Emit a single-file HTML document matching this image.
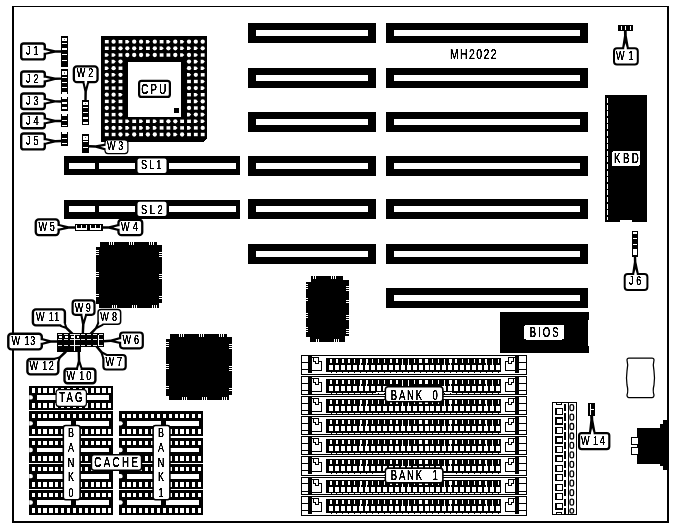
<!DOCTYPE html>
<html><head><meta charset="utf-8"><title>MH2022</title>
<style>
html,body{margin:0;padding:0;background:#fff;}
body{width:674px;height:527px;overflow:hidden;}
svg{display:block;}
text{font-family:"Liberation Sans",sans-serif;fill:#000;stroke:#000;stroke-width:0.15px;vector-effect:non-scaling-stroke;}
</style></head><body>
<svg width="674" height="527" viewBox="0 0 674 527" shape-rendering="crispEdges">
<rect x="0" y="0" width="674" height="527" fill="#fff"/>
<defs><filter id="bw" x="0" y="0" width="100%" height="100%" filterUnits="userSpaceOnUse" color-interpolation-filters="sRGB">
<feComponentTransfer><feFuncA type="linear" slope="3" intercept="-0.6"/></feComponentTransfer></filter></defs>
<rect x="12" y="6" width="2" height="517" fill="#000" />
<rect x="12" y="6" width="657" height="1" fill="#000" />
<rect x="667" y="6" width="2" height="517" fill="#000" />
<rect x="12" y="521" width="657" height="2" fill="#000" />
<rect x="248" y="23" width="128" height="20" fill="#000" />
<rect x="256" y="30" width="112" height="6" fill="#fff" />
<rect x="248" y="68" width="128" height="20" fill="#000" />
<rect x="256" y="75" width="112" height="6" fill="#fff" />
<rect x="248" y="112" width="128" height="20" fill="#000" />
<rect x="256" y="119" width="112" height="6" fill="#fff" />
<rect x="248" y="156" width="128" height="20" fill="#000" />
<rect x="256" y="163" width="112" height="6" fill="#fff" />
<rect x="248" y="199" width="128" height="20" fill="#000" />
<rect x="256" y="206" width="112" height="6" fill="#fff" />
<rect x="248" y="244" width="128" height="20" fill="#000" />
<rect x="256" y="251" width="112" height="6" fill="#fff" />
<rect x="386" y="23" width="202" height="20" fill="#000" />
<rect x="394" y="30" width="186" height="6" fill="#fff" />
<rect x="386" y="68" width="202" height="20" fill="#000" />
<rect x="394" y="75" width="186" height="6" fill="#fff" />
<rect x="386" y="112" width="202" height="20" fill="#000" />
<rect x="394" y="119" width="186" height="6" fill="#fff" />
<rect x="386" y="156" width="202" height="20" fill="#000" />
<rect x="394" y="163" width="186" height="6" fill="#fff" />
<rect x="386" y="199" width="202" height="20" fill="#000" />
<rect x="394" y="206" width="186" height="6" fill="#fff" />
<rect x="386" y="244" width="202" height="20" fill="#000" />
<rect x="394" y="251" width="186" height="6" fill="#fff" />
<rect x="386" y="288" width="202" height="20" fill="#000" />
<rect x="394" y="295" width="186" height="6" fill="#fff" />
<rect x="64" y="156" width="176" height="19" fill="#000" />
<rect x="69" y="163" width="25.5" height="6" fill="#fff" />
<rect x="99" y="163" width="137.3" height="6" fill="#fff" />
<rect x="134.6" y="156" width="34.8" height="19" fill="#000" />
<rect x="137.5" y="158.6" width="29" height="14.3" rx="2" fill="#fff" shape-rendering="auto"/>
<rect x="64" y="200" width="176" height="19" fill="#000" />
<rect x="69" y="206" width="25.5" height="6" fill="#fff" />
<rect x="99" y="206" width="137.3" height="6" fill="#fff" />
<rect x="134.6" y="200" width="34.8" height="19" fill="#000" />
<rect x="137.5" y="201.7" width="29" height="14.3" rx="2" fill="#fff" shape-rendering="auto"/>
<polygon points="101,36 207,36 207,138.5 203.5,142 101,142" fill="#000"/>
<rect x="128" y="62" width="53" height="54.5" fill="#fff" />
<rect x="104.9" y="40.0" width="3.8" height="3.4" fill="#fff" shape-rendering="auto"/>
<circle cx="113.6" cy="41.7" r="2.15" fill="#fff" shape-rendering="auto"/>
<rect x="118.6" y="40.0" width="3.8" height="3.4" fill="#fff" shape-rendering="auto"/>
<polygon points="125.3,39.9 127.8,39.9 129.5,41.7 127.8,43.5 125.3,43.5" fill="#fff" shape-rendering="auto"/>
<circle cx="134.2" cy="41.7" r="2.15" fill="#fff" shape-rendering="auto"/>
<circle cx="141.1" cy="41.7" r="2.15" fill="#fff" shape-rendering="auto"/>
<polygon points="145.9,39.9 148.3,39.9 150.1,41.7 148.3,43.5 145.9,43.5" fill="#fff" shape-rendering="auto"/>
<circle cx="154.8" cy="41.7" r="2.15" fill="#fff" shape-rendering="auto"/>
<rect x="159.7" y="40.0" width="3.8" height="3.4" fill="#fff" shape-rendering="auto"/>
<polygon points="166.4,39.9 168.8,39.9 170.6,41.7 168.8,43.5 166.4,43.5" fill="#fff" shape-rendering="auto"/>
<circle cx="175.3" cy="41.7" r="2.15" fill="#fff" shape-rendering="auto"/>
<polygon points="180.1,39.9 182.5,39.9 184.3,41.7 182.5,43.5 180.1,43.5" fill="#fff" shape-rendering="auto"/>
<circle cx="189.0" cy="41.7" r="2.15" fill="#fff" shape-rendering="auto"/>
<circle cx="195.8" cy="41.7" r="2.15" fill="#fff" shape-rendering="auto"/>
<circle cx="202.7" cy="41.7" r="2.15" fill="#fff" shape-rendering="auto"/>
<rect x="104.9" y="46.6" width="3.8" height="3.4" fill="#fff" shape-rendering="auto"/>
<rect x="111.7" y="46.6" width="3.8" height="3.4" fill="#fff" shape-rendering="auto"/>
<circle cx="120.5" cy="48.3" r="2.15" fill="#fff" shape-rendering="auto"/>
<circle cx="127.3" cy="48.3" r="2.15" fill="#fff" shape-rendering="auto"/>
<circle cx="134.2" cy="48.3" r="2.15" fill="#fff" shape-rendering="auto"/>
<polygon points="139.1,46.5 141.5,46.5 143.2,48.3 141.5,50.1 139.1,50.1" fill="#fff" shape-rendering="auto"/>
<rect x="146.0" y="46.6" width="3.8" height="3.4" fill="#fff" shape-rendering="auto"/>
<circle cx="154.8" cy="48.3" r="2.15" fill="#fff" shape-rendering="auto"/>
<polygon points="159.6,46.5 162.0,46.5 163.8,48.3 162.0,50.1 159.6,50.1" fill="#fff" shape-rendering="auto"/>
<circle cx="168.4" cy="48.3" r="2.15" fill="#fff" shape-rendering="auto"/>
<circle cx="175.3" cy="48.3" r="2.15" fill="#fff" shape-rendering="auto"/>
<polygon points="180.1,46.5 182.5,46.5 184.3,48.3 182.5,50.1 180.1,50.1" fill="#fff" shape-rendering="auto"/>
<polygon points="187.0,46.5 189.4,46.5 191.2,48.3 189.4,50.1 187.0,50.1" fill="#fff" shape-rendering="auto"/>
<polygon points="193.8,46.5 196.2,46.5 198.0,48.3 196.2,50.1 193.8,50.1" fill="#fff" shape-rendering="auto"/>
<circle cx="202.7" cy="48.3" r="2.15" fill="#fff" shape-rendering="auto"/>
<polygon points="104.8,53.2 107.2,53.2 109.0,55.0 107.2,56.8 104.8,56.8" fill="#fff" shape-rendering="auto"/>
<polygon points="111.6,53.2 114.0,53.2 115.8,55.0 114.0,56.8 111.6,56.8" fill="#fff" shape-rendering="auto"/>
<rect x="118.6" y="53.3" width="3.8" height="3.4" fill="#fff" shape-rendering="auto"/>
<circle cx="127.3" cy="55.0" r="2.15" fill="#fff" shape-rendering="auto"/>
<circle cx="134.2" cy="55.0" r="2.15" fill="#fff" shape-rendering="auto"/>
<circle cx="141.1" cy="55.0" r="2.15" fill="#fff" shape-rendering="auto"/>
<polygon points="145.9,53.2 148.3,53.2 150.1,55.0 148.3,56.8 145.9,56.8" fill="#fff" shape-rendering="auto"/>
<circle cx="154.8" cy="55.0" r="2.15" fill="#fff" shape-rendering="auto"/>
<rect x="159.7" y="53.3" width="3.8" height="3.4" fill="#fff" shape-rendering="auto"/>
<rect x="166.5" y="53.3" width="3.8" height="3.4" fill="#fff" shape-rendering="auto"/>
<circle cx="175.3" cy="55.0" r="2.15" fill="#fff" shape-rendering="auto"/>
<polygon points="180.1,53.2 182.5,53.2 184.3,55.0 182.5,56.8 180.1,56.8" fill="#fff" shape-rendering="auto"/>
<circle cx="189.0" cy="55.0" r="2.15" fill="#fff" shape-rendering="auto"/>
<polygon points="193.8,53.2 196.2,53.2 198.0,55.0 196.2,56.8 193.8,56.8" fill="#fff" shape-rendering="auto"/>
<rect x="200.8" y="53.3" width="3.8" height="3.4" fill="#fff" shape-rendering="auto"/>
<polygon points="104.8,59.8 107.2,59.8 109.0,61.6 107.2,63.4 104.8,63.4" fill="#fff" shape-rendering="auto"/>
<polygon points="111.6,59.8 114.0,59.8 115.8,61.6 114.0,63.4 111.6,63.4" fill="#fff" shape-rendering="auto"/>
<circle cx="120.5" cy="61.6" r="2.15" fill="#fff" shape-rendering="auto"/>
<circle cx="189.0" cy="61.6" r="2.15" fill="#fff" shape-rendering="auto"/>
<polygon points="193.8,59.8 196.2,59.8 198.0,61.6 196.2,63.4 193.8,63.4" fill="#fff" shape-rendering="auto"/>
<polygon points="200.7,59.8 203.1,59.8 204.9,61.6 203.1,63.4 200.7,63.4" fill="#fff" shape-rendering="auto"/>
<polygon points="104.8,66.4 107.2,66.4 109.0,68.2 107.2,70.0 104.8,70.0" fill="#fff" shape-rendering="auto"/>
<circle cx="113.6" cy="68.2" r="2.15" fill="#fff" shape-rendering="auto"/>
<rect x="118.6" y="66.5" width="3.8" height="3.4" fill="#fff" shape-rendering="auto"/>
<circle cx="189.0" cy="68.2" r="2.15" fill="#fff" shape-rendering="auto"/>
<polygon points="193.8,66.4 196.2,66.4 198.0,68.2 196.2,70.0 193.8,70.0" fill="#fff" shape-rendering="auto"/>
<polygon points="200.7,66.4 203.1,66.4 204.9,68.2 203.1,70.0 200.7,70.0" fill="#fff" shape-rendering="auto"/>
<circle cx="106.8" cy="74.8" r="2.15" fill="#fff" shape-rendering="auto"/>
<polygon points="111.6,73.0 114.0,73.0 115.8,74.8 114.0,76.6 111.6,76.6" fill="#fff" shape-rendering="auto"/>
<circle cx="120.5" cy="74.8" r="2.15" fill="#fff" shape-rendering="auto"/>
<polygon points="187.0,73.0 189.4,73.0 191.2,74.8 189.4,76.6 187.0,76.6" fill="#fff" shape-rendering="auto"/>
<circle cx="195.8" cy="74.8" r="2.15" fill="#fff" shape-rendering="auto"/>
<rect x="200.8" y="73.1" width="3.8" height="3.4" fill="#fff" shape-rendering="auto"/>
<polygon points="104.8,79.7 107.2,79.7 109.0,81.5 107.2,83.3 104.8,83.3" fill="#fff" shape-rendering="auto"/>
<polygon points="111.6,79.7 114.0,79.7 115.8,81.5 114.0,83.3 111.6,83.3" fill="#fff" shape-rendering="auto"/>
<rect x="118.6" y="79.8" width="3.8" height="3.4" fill="#fff" shape-rendering="auto"/>
<rect x="187.1" y="79.8" width="3.8" height="3.4" fill="#fff" shape-rendering="auto"/>
<rect x="193.9" y="79.8" width="3.8" height="3.4" fill="#fff" shape-rendering="auto"/>
<polygon points="200.7,79.7 203.1,79.7 204.9,81.5 203.1,83.3 200.7,83.3" fill="#fff" shape-rendering="auto"/>
<rect x="104.9" y="86.4" width="3.8" height="3.4" fill="#fff" shape-rendering="auto"/>
<rect x="111.7" y="86.4" width="3.8" height="3.4" fill="#fff" shape-rendering="auto"/>
<rect x="118.6" y="86.4" width="3.8" height="3.4" fill="#fff" shape-rendering="auto"/>
<circle cx="189.0" cy="88.1" r="2.15" fill="#fff" shape-rendering="auto"/>
<circle cx="195.8" cy="88.1" r="2.15" fill="#fff" shape-rendering="auto"/>
<polygon points="200.7,86.3 203.1,86.3 204.9,88.1 203.1,89.9 200.7,89.9" fill="#fff" shape-rendering="auto"/>
<circle cx="106.8" cy="94.7" r="2.15" fill="#fff" shape-rendering="auto"/>
<circle cx="113.6" cy="94.7" r="2.15" fill="#fff" shape-rendering="auto"/>
<polygon points="118.5,92.9 120.9,92.9 122.7,94.7 120.9,96.5 118.5,96.5" fill="#fff" shape-rendering="auto"/>
<rect x="187.1" y="93.0" width="3.8" height="3.4" fill="#fff" shape-rendering="auto"/>
<polygon points="193.8,92.9 196.2,92.9 198.0,94.7 196.2,96.5 193.8,96.5" fill="#fff" shape-rendering="auto"/>
<rect x="200.8" y="93.0" width="3.8" height="3.4" fill="#fff" shape-rendering="auto"/>
<rect x="104.9" y="99.7" width="3.8" height="3.4" fill="#fff" shape-rendering="auto"/>
<polygon points="111.6,99.6 114.0,99.6 115.8,101.4 114.0,103.2 111.6,103.2" fill="#fff" shape-rendering="auto"/>
<rect x="118.6" y="99.7" width="3.8" height="3.4" fill="#fff" shape-rendering="auto"/>
<rect x="187.1" y="99.7" width="3.8" height="3.4" fill="#fff" shape-rendering="auto"/>
<polygon points="193.8,99.6 196.2,99.6 198.0,101.4 196.2,103.2 193.8,103.2" fill="#fff" shape-rendering="auto"/>
<circle cx="202.7" cy="101.4" r="2.15" fill="#fff" shape-rendering="auto"/>
<circle cx="106.8" cy="108.0" r="2.15" fill="#fff" shape-rendering="auto"/>
<polygon points="111.6,106.2 114.0,106.2 115.8,108.0 114.0,109.8 111.6,109.8" fill="#fff" shape-rendering="auto"/>
<rect x="118.6" y="106.3" width="3.8" height="3.4" fill="#fff" shape-rendering="auto"/>
<circle cx="189.0" cy="108.0" r="2.15" fill="#fff" shape-rendering="auto"/>
<rect x="193.9" y="106.3" width="3.8" height="3.4" fill="#fff" shape-rendering="auto"/>
<circle cx="202.7" cy="108.0" r="2.15" fill="#fff" shape-rendering="auto"/>
<rect x="104.9" y="112.9" width="3.8" height="3.4" fill="#fff" shape-rendering="auto"/>
<rect x="111.7" y="112.9" width="3.8" height="3.4" fill="#fff" shape-rendering="auto"/>
<circle cx="120.5" cy="114.6" r="2.15" fill="#fff" shape-rendering="auto"/>
<polygon points="187.0,112.8 189.4,112.8 191.2,114.6 189.4,116.4 187.0,116.4" fill="#fff" shape-rendering="auto"/>
<circle cx="195.8" cy="114.6" r="2.15" fill="#fff" shape-rendering="auto"/>
<polygon points="200.7,112.8 203.1,112.8 204.9,114.6 203.1,116.4 200.7,116.4" fill="#fff" shape-rendering="auto"/>
<polygon points="104.8,119.5 107.2,119.5 109.0,121.3 107.2,123.1 104.8,123.1" fill="#fff" shape-rendering="auto"/>
<rect x="111.7" y="119.6" width="3.8" height="3.4" fill="#fff" shape-rendering="auto"/>
<rect x="118.6" y="119.6" width="3.8" height="3.4" fill="#fff" shape-rendering="auto"/>
<polygon points="125.3,119.5 127.8,119.5 129.5,121.3 127.8,123.1 125.3,123.1" fill="#fff" shape-rendering="auto"/>
<rect x="132.3" y="119.6" width="3.8" height="3.4" fill="#fff" shape-rendering="auto"/>
<polygon points="139.1,119.5 141.5,119.5 143.2,121.3 141.5,123.1 139.1,123.1" fill="#fff" shape-rendering="auto"/>
<rect x="146.0" y="119.6" width="3.8" height="3.4" fill="#fff" shape-rendering="auto"/>
<polygon points="152.8,119.5 155.2,119.5 156.9,121.3 155.2,123.1 152.8,123.1" fill="#fff" shape-rendering="auto"/>
<rect x="159.7" y="119.6" width="3.8" height="3.4" fill="#fff" shape-rendering="auto"/>
<circle cx="168.4" cy="121.3" r="2.15" fill="#fff" shape-rendering="auto"/>
<circle cx="175.3" cy="121.3" r="2.15" fill="#fff" shape-rendering="auto"/>
<rect x="180.2" y="119.6" width="3.8" height="3.4" fill="#fff" shape-rendering="auto"/>
<rect x="187.1" y="119.6" width="3.8" height="3.4" fill="#fff" shape-rendering="auto"/>
<polygon points="193.8,119.5 196.2,119.5 198.0,121.3 196.2,123.1 193.8,123.1" fill="#fff" shape-rendering="auto"/>
<polygon points="200.7,119.5 203.1,119.5 204.9,121.3 203.1,123.1 200.7,123.1" fill="#fff" shape-rendering="auto"/>
<circle cx="106.8" cy="127.9" r="2.15" fill="#fff" shape-rendering="auto"/>
<circle cx="113.6" cy="127.9" r="2.15" fill="#fff" shape-rendering="auto"/>
<polygon points="118.5,126.1 120.9,126.1 122.7,127.9 120.9,129.7 118.5,129.7" fill="#fff" shape-rendering="auto"/>
<polygon points="125.3,126.1 127.8,126.1 129.5,127.9 127.8,129.7 125.3,129.7" fill="#fff" shape-rendering="auto"/>
<rect x="132.3" y="126.2" width="3.8" height="3.4" fill="#fff" shape-rendering="auto"/>
<polygon points="139.1,126.1 141.5,126.1 143.2,127.9 141.5,129.7 139.1,129.7" fill="#fff" shape-rendering="auto"/>
<polygon points="145.9,126.1 148.3,126.1 150.1,127.9 148.3,129.7 145.9,129.7" fill="#fff" shape-rendering="auto"/>
<polygon points="152.8,126.1 155.2,126.1 156.9,127.9 155.2,129.7 152.8,129.7" fill="#fff" shape-rendering="auto"/>
<rect x="159.7" y="126.2" width="3.8" height="3.4" fill="#fff" shape-rendering="auto"/>
<rect x="166.5" y="126.2" width="3.8" height="3.4" fill="#fff" shape-rendering="auto"/>
<polygon points="173.3,126.1 175.7,126.1 177.5,127.9 175.7,129.7 173.3,129.7" fill="#fff" shape-rendering="auto"/>
<rect x="180.2" y="126.2" width="3.8" height="3.4" fill="#fff" shape-rendering="auto"/>
<polygon points="187.0,126.1 189.4,126.1 191.2,127.9 189.4,129.7 187.0,129.7" fill="#fff" shape-rendering="auto"/>
<rect x="193.9" y="126.2" width="3.8" height="3.4" fill="#fff" shape-rendering="auto"/>
<circle cx="202.7" cy="127.9" r="2.15" fill="#fff" shape-rendering="auto"/>
<rect x="104.9" y="132.8" width="3.8" height="3.4" fill="#fff" shape-rendering="auto"/>
<rect x="111.7" y="132.8" width="3.8" height="3.4" fill="#fff" shape-rendering="auto"/>
<circle cx="120.5" cy="134.5" r="2.15" fill="#fff" shape-rendering="auto"/>
<polygon points="125.3,132.7 127.8,132.7 129.5,134.5 127.8,136.3 125.3,136.3" fill="#fff" shape-rendering="auto"/>
<circle cx="134.2" cy="134.5" r="2.15" fill="#fff" shape-rendering="auto"/>
<rect x="139.2" y="132.8" width="3.8" height="3.4" fill="#fff" shape-rendering="auto"/>
<circle cx="147.9" cy="134.5" r="2.15" fill="#fff" shape-rendering="auto"/>
<circle cx="154.8" cy="134.5" r="2.15" fill="#fff" shape-rendering="auto"/>
<rect x="159.7" y="132.8" width="3.8" height="3.4" fill="#fff" shape-rendering="auto"/>
<circle cx="168.4" cy="134.5" r="2.15" fill="#fff" shape-rendering="auto"/>
<polygon points="173.3,132.7 175.7,132.7 177.5,134.5 175.7,136.3 173.3,136.3" fill="#fff" shape-rendering="auto"/>
<circle cx="182.1" cy="134.5" r="2.15" fill="#fff" shape-rendering="auto"/>
<rect x="187.1" y="132.8" width="3.8" height="3.4" fill="#fff" shape-rendering="auto"/>
<rect x="193.9" y="132.8" width="3.8" height="3.4" fill="#fff" shape-rendering="auto"/>
<rect x="200.8" y="132.8" width="3.8" height="3.4" fill="#fff" shape-rendering="auto"/>
<rect x="174.4" y="108.4" width="4.8" height="4.8" fill="#000" />
<rect x="139.1" y="80.8" width="30.8" height="16.1" rx="2.5" ry="2.5" fill="#fff" stroke="#000" stroke-width="2.2" shape-rendering="auto"/>
<rect x="61" y="36" width="7" height="30.6" fill="#000" />
<rect x="62.3" y="37.6" width="4.4" height="3.8" fill="#fff" />
<rect x="63.6" y="38.8" width="1.8" height="1.4" fill="#777" />
<rect x="62" y="42.85" width="5" height="1.5" fill="#fff" />
<rect x="62" y="48.35" width="5" height="1.5" fill="#fff" />
<rect x="62" y="53.75" width="5" height="1.5" fill="#fff" />
<rect x="62" y="59.85" width="5" height="1.5" fill="#fff" />
<rect x="61" y="69" width="7" height="25.2" fill="#000" />
<rect x="62.3" y="70.8" width="4.4" height="4.2" fill="#fff" />
<rect x="63.6" y="72" width="1.8" height="1.8" fill="#777" />
<rect x="62" y="76.65" width="5" height="1.5" fill="#fff" />
<rect x="62" y="81.55" width="5" height="1.5" fill="#fff" />
<rect x="62" y="86.65" width="5" height="1.5" fill="#fff" />
<rect x="62" y="92.05" width="5" height="1.5" fill="#fff" />
<rect x="61" y="97" width="7" height="13.6" fill="#000" />
<rect x="62" y="97.15" width="5" height="1.5" fill="#fff" />
<rect x="62" y="102.05" width="5" height="1.5" fill="#fff" />
<rect x="62" y="107.25" width="5" height="1.5" fill="#fff" />
<rect x="61" y="114.2" width="7" height="13.2" fill="#000" />
<rect x="62" y="114.35" width="5" height="1.5" fill="#fff" />
<rect x="62" y="119.55" width="5" height="1.5" fill="#fff" />
<rect x="62" y="124.65" width="5" height="1.5" fill="#fff" />
<rect x="61" y="132.3" width="7" height="13.2" fill="#000" />
<rect x="62" y="132.45" width="5" height="1.5" fill="#fff" />
<rect x="62" y="137.65" width="5" height="1.5" fill="#fff" />
<rect x="62" y="142.75" width="5" height="1.5" fill="#fff" />
<rect x="82" y="100" width="7" height="24.5" fill="#000" />
<rect x="83.3" y="101.5" width="4.4" height="3.9" fill="#fff" />
<rect x="84.6" y="102.7" width="1.8" height="1.5" fill="#777" />
<rect x="83" y="106.65" width="5" height="1.5" fill="#fff" />
<rect x="83" y="111.75" width="5" height="1.5" fill="#fff" />
<rect x="83" y="117.45" width="5" height="1.5" fill="#fff" />
<rect x="83" y="122.05" width="5" height="1.5" fill="#fff" />
<rect x="82" y="134" width="7" height="18.6" fill="#000" />
<rect x="83.3" y="135.6" width="4.4" height="4" fill="#fff" />
<rect x="84.6" y="136.8" width="1.8" height="1.6" fill="#777" />
<rect x="83" y="140.75" width="5" height="1.5" fill="#fff" />
<rect x="83" y="146.55" width="5" height="1.5" fill="#fff" />
<polygon points="44.0,54.8 45.5,54.8 55.1,52.7 61.5,52.7 61.5,50.3 55.1,50.2 45.5,48.1 44.0,48.0" fill="#000" shape-rendering="auto"/>
<rect x="21.2" y="43.5" width="23.6" height="15.9" rx="2.5" ry="2.5" fill="#fff" stroke="#000" stroke-width="2.4" shape-rendering="auto"/>
<polygon points="42.5,52.7 45.5,52.7 50.5,51.5 45.5,50.2 42.5,50.1" fill="#fff" shape-rendering="auto"/>
<polygon points="44.1,82.4 45.6,82.4 55.1,80.0 61.5,79.8 61.5,77.4 55.1,77.5 45.4,75.6 43.9,75.6" fill="#000" shape-rendering="auto"/>
<rect x="21.2" y="71.5" width="23.6" height="15" rx="2.5" ry="2.5" fill="#fff" stroke="#000" stroke-width="2.4" shape-rendering="auto"/>
<polygon points="42.5,80.4 45.5,80.3 50.5,78.9 45.5,77.7 42.5,77.8" fill="#fff" shape-rendering="auto"/>
<polygon points="43.9,104.6 45.4,104.6 55.1,102.6 61.5,102.7 61.5,100.3 55.1,100.2 45.6,97.9 44.1,97.8" fill="#000" shape-rendering="auto"/>
<rect x="21.2" y="93.5" width="23.6" height="15.5" rx="2.5" ry="2.5" fill="#fff" stroke="#000" stroke-width="2.4" shape-rendering="auto"/>
<polygon points="42.5,102.5 45.5,102.5 50.5,101.3 45.5,100.0 42.5,99.9" fill="#fff" shape-rendering="auto"/>
<polygon points="44.0,124.3 45.5,124.3 55.1,122.2 61.5,122.2 61.5,119.8 55.1,119.7 45.5,117.5 44.0,117.5" fill="#000" shape-rendering="auto"/>
<rect x="21.2" y="113.5" width="23.6" height="14.8" rx="2.5" ry="2.5" fill="#fff" stroke="#000" stroke-width="2.4" shape-rendering="auto"/>
<polygon points="42.5,122.2 45.5,122.2 50.5,120.9 45.5,119.6 42.5,119.6" fill="#fff" shape-rendering="auto"/>
<polygon points="44.1,144.9 45.6,144.8 55.1,142.4 61.5,142.2 61.5,139.8 55.1,139.9 45.4,138.1 43.9,138.1" fill="#000" shape-rendering="auto"/>
<rect x="21.2" y="133.5" width="23.6" height="15.9" rx="2.5" ry="2.5" fill="#fff" stroke="#000" stroke-width="2.4" shape-rendering="auto"/>
<polygon points="42.5,142.8 45.5,142.7 50.5,141.3 45.5,140.2 42.5,140.2" fill="#fff" shape-rendering="auto"/>
<polygon points="82.4,80.9 82.4,82.4 84.4,91.5 84.3,100.5 86.7,100.5 86.9,91.5 89.2,82.6 89.2,81.1" fill="#000" shape-rendering="auto"/>
<rect x="73.85" y="66.35" width="23.7" height="15.8" rx="3" ry="3" fill="#fff" stroke="#000" stroke-width="2.3" shape-rendering="auto"/>
<polygon points="84.6,79.5 84.5,82.5 85.7,87.5 87.1,82.5 87.1,79.5" fill="#fff" shape-rendering="auto"/>
<polygon points="107.1,143.7 105.6,143.6 95.7,145.3 89.1,145.1 88.9,147.5 95.5,147.8 105.4,150.4 106.9,150.5" fill="#000" shape-rendering="auto"/>
<rect x="105" y="139.9" width="22.9" height="13.7" rx="3" ry="3" fill="#fff" stroke="#000" stroke-width="1.2" shape-rendering="auto"/>
<polygon points="108.6,145.8 105.6,145.7 100.5,146.8 105.4,148.3 108.4,148.4" fill="#fff" shape-rendering="auto"/>
<rect x="618" y="25" width="14.5" height="6" fill="#000" />
<rect x="620.5" y="26.3" width="1.4" height="3.4" fill="#fff" />
<rect x="625" y="26.3" width="1.4" height="3.4" fill="#fff" />
<rect x="629.5" y="26.3" width="1.4" height="3.4" fill="#fff" />
<polygon points="628.9,49.5 628.9,48.0 626.8,35.7 626.7,31.0 623.9,31.0 624.0,35.8 622.1,48.0 622.1,49.5" fill="#000" shape-rendering="auto"/>
<rect x="614" y="48.2" width="23.8" height="16.4" rx="3" ry="3" fill="#fff" stroke="#000" stroke-width="2" shape-rendering="auto"/>
<polygon points="626.8,51.0 626.8,48.0 625.4,43.0 624.2,48.0 624.2,51.0" fill="#fff" shape-rendering="auto"/>
<polygon points="605,95 647,95 647,221.5 632,221.5 632,219.5 620,219.5 620,221.5 605,221.5" fill="#000"/>
<line x1="607" y1="98" x2="607" y2="220" stroke="#fff" stroke-width="1" stroke-dasharray="5,1.6"/>
<rect x="612" y="151" width="28" height="15" rx="2" fill="#fff"/>
<rect x="632" y="231.4" width="6" height="25.1" fill="#000" />
<rect x="633.3" y="249.2" width="3.4" height="5.6" fill="#fff" />
<rect x="634.6" y="250.4" width="0.8" height="3.2" fill="#777" />
<rect x="633" y="232.15" width="4" height="1.5" fill="#fff" />
<rect x="633" y="237.95" width="4" height="1.5" fill="#fff" />
<rect x="633" y="243.75" width="4" height="1.5" fill="#fff" />
<polygon points="638.9,275.4 638.9,273.9 636.4,262.1 636.2,257.0 633.8,257.0 633.9,262.1 632.1,274.1 632.1,275.6" fill="#000" shape-rendering="auto"/>
<rect x="624.7" y="274" width="22.7" height="16" rx="3" ry="3" fill="#fff" stroke="#000" stroke-width="2" shape-rendering="auto"/>
<polygon points="636.9,277.0 636.8,274.0 635.4,269.0 634.2,274.0 634.3,277.0" fill="#fff" shape-rendering="auto"/>
<path d="M500,312 H589 V319.5 L587.5,321.5 V344.5 L589,346.5 V352.5 H500 Z" fill="#000"/>
<rect x="524" y="325" width="40" height="14.5" rx="2" fill="#fff"/>
<polygon points="100,242 157,242 157,245 162,245 162,303 159,303 159,308 99,308 99,304 96,304 96,247 100,247" fill="#000"/>
<rect x="109.2" y="242" width="0.9" height="2.6" fill="#fff" />
<rect x="112.2" y="305.4" width="0.9" height="2.6" fill="#fff" />
<rect x="111.3" y="242" width="0.9" height="2.6" fill="#fff" />
<rect x="114.3" y="305.4" width="0.9" height="2.6" fill="#fff" />
<rect x="113.4" y="242" width="0.9" height="2.6" fill="#fff" />
<rect x="116.4" y="305.4" width="0.9" height="2.6" fill="#fff" />
<rect x="129" y="242" width="0.9" height="2.6" fill="#fff" />
<rect x="132" y="305.4" width="0.9" height="2.6" fill="#fff" />
<rect x="131.1" y="242" width="0.9" height="2.6" fill="#fff" />
<rect x="134.1" y="305.4" width="0.9" height="2.6" fill="#fff" />
<rect x="133.2" y="242" width="0.9" height="2.6" fill="#fff" />
<rect x="136.2" y="305.4" width="0.9" height="2.6" fill="#fff" />
<rect x="148.8" y="242" width="0.9" height="2.6" fill="#fff" />
<rect x="151.8" y="305.4" width="0.9" height="2.6" fill="#fff" />
<rect x="150.9" y="242" width="0.9" height="2.6" fill="#fff" />
<rect x="153.9" y="305.4" width="0.9" height="2.6" fill="#fff" />
<rect x="153" y="242" width="0.9" height="2.6" fill="#fff" />
<rect x="156" y="305.4" width="0.9" height="2.6" fill="#fff" />
<rect x="96" y="249.92" width="2.6" height="0.9" fill="#fff" />
<rect x="159.4" y="251.92" width="2.6" height="0.9" fill="#fff" />
<rect x="96" y="252.02" width="2.6" height="0.9" fill="#fff" />
<rect x="159.4" y="254.02" width="2.6" height="0.9" fill="#fff" />
<rect x="96" y="254.12" width="2.6" height="0.9" fill="#fff" />
<rect x="159.4" y="256.12" width="2.6" height="0.9" fill="#fff" />
<rect x="96" y="271.7" width="2.6" height="0.9" fill="#fff" />
<rect x="159.4" y="273.7" width="2.6" height="0.9" fill="#fff" />
<rect x="96" y="273.8" width="2.6" height="0.9" fill="#fff" />
<rect x="159.4" y="275.8" width="2.6" height="0.9" fill="#fff" />
<rect x="96" y="275.9" width="2.6" height="0.9" fill="#fff" />
<rect x="159.4" y="277.9" width="2.6" height="0.9" fill="#fff" />
<rect x="96" y="291.5" width="2.6" height="0.9" fill="#fff" />
<rect x="159.4" y="293.5" width="2.6" height="0.9" fill="#fff" />
<rect x="96" y="293.6" width="2.6" height="0.9" fill="#fff" />
<rect x="159.4" y="295.6" width="2.6" height="0.9" fill="#fff" />
<rect x="96" y="295.7" width="2.6" height="0.9" fill="#fff" />
<rect x="159.4" y="297.7" width="2.6" height="0.9" fill="#fff" />
<polygon points="170,334 227,334 227,337 232,337 232,395 229,395 229,400 169,400 169,396 166,396 166,339 170,339" fill="#000"/>
<rect x="179.2" y="334" width="0.9" height="2.6" fill="#fff" />
<rect x="182.2" y="397.4" width="0.9" height="2.6" fill="#fff" />
<rect x="181.3" y="334" width="0.9" height="2.6" fill="#fff" />
<rect x="184.3" y="397.4" width="0.9" height="2.6" fill="#fff" />
<rect x="183.4" y="334" width="0.9" height="2.6" fill="#fff" />
<rect x="186.4" y="397.4" width="0.9" height="2.6" fill="#fff" />
<rect x="199" y="334" width="0.9" height="2.6" fill="#fff" />
<rect x="202" y="397.4" width="0.9" height="2.6" fill="#fff" />
<rect x="201.1" y="334" width="0.9" height="2.6" fill="#fff" />
<rect x="204.1" y="397.4" width="0.9" height="2.6" fill="#fff" />
<rect x="203.2" y="334" width="0.9" height="2.6" fill="#fff" />
<rect x="206.2" y="397.4" width="0.9" height="2.6" fill="#fff" />
<rect x="218.8" y="334" width="0.9" height="2.6" fill="#fff" />
<rect x="221.8" y="397.4" width="0.9" height="2.6" fill="#fff" />
<rect x="220.9" y="334" width="0.9" height="2.6" fill="#fff" />
<rect x="223.9" y="397.4" width="0.9" height="2.6" fill="#fff" />
<rect x="223" y="334" width="0.9" height="2.6" fill="#fff" />
<rect x="226" y="397.4" width="0.9" height="2.6" fill="#fff" />
<rect x="166" y="341.92" width="2.6" height="0.9" fill="#fff" />
<rect x="229.4" y="343.92" width="2.6" height="0.9" fill="#fff" />
<rect x="166" y="344.02" width="2.6" height="0.9" fill="#fff" />
<rect x="229.4" y="346.02" width="2.6" height="0.9" fill="#fff" />
<rect x="166" y="346.12" width="2.6" height="0.9" fill="#fff" />
<rect x="229.4" y="348.12" width="2.6" height="0.9" fill="#fff" />
<rect x="166" y="363.7" width="2.6" height="0.9" fill="#fff" />
<rect x="229.4" y="365.7" width="2.6" height="0.9" fill="#fff" />
<rect x="166" y="365.8" width="2.6" height="0.9" fill="#fff" />
<rect x="229.4" y="367.8" width="2.6" height="0.9" fill="#fff" />
<rect x="166" y="367.9" width="2.6" height="0.9" fill="#fff" />
<rect x="229.4" y="369.9" width="2.6" height="0.9" fill="#fff" />
<rect x="166" y="383.5" width="2.6" height="0.9" fill="#fff" />
<rect x="229.4" y="385.5" width="2.6" height="0.9" fill="#fff" />
<rect x="166" y="385.6" width="2.6" height="0.9" fill="#fff" />
<rect x="229.4" y="387.6" width="2.6" height="0.9" fill="#fff" />
<rect x="166" y="387.7" width="2.6" height="0.9" fill="#fff" />
<rect x="229.4" y="389.7" width="2.6" height="0.9" fill="#fff" />
<polygon points="310.5,276 343,276 343,280 349,280 349,335.7 345,335.7 345,341.7 309.5,341.7 309.5,336.7 305.5,336.7 305.5,282 310.5,282" fill="#000"/>
<rect x="313.33" y="276" width="0.9" height="2.6" fill="#fff" />
<rect x="316.33" y="339.1" width="0.9" height="2.6" fill="#fff" />
<rect x="315.43" y="276" width="0.9" height="2.6" fill="#fff" />
<rect x="318.43" y="339.1" width="0.9" height="2.6" fill="#fff" />
<rect x="317.53" y="276" width="0.9" height="2.6" fill="#fff" />
<rect x="320.53" y="339.1" width="0.9" height="2.6" fill="#fff" />
<rect x="330.73" y="276" width="0.9" height="2.6" fill="#fff" />
<rect x="333.73" y="339.1" width="0.9" height="2.6" fill="#fff" />
<rect x="332.83" y="276" width="0.9" height="2.6" fill="#fff" />
<rect x="335.83" y="339.1" width="0.9" height="2.6" fill="#fff" />
<rect x="334.93" y="276" width="0.9" height="2.6" fill="#fff" />
<rect x="337.93" y="339.1" width="0.9" height="2.6" fill="#fff" />
<rect x="305.5" y="283.884" width="2.6" height="0.9" fill="#fff" />
<rect x="346.4" y="285.884" width="2.6" height="0.9" fill="#fff" />
<rect x="305.5" y="285.984" width="2.6" height="0.9" fill="#fff" />
<rect x="346.4" y="287.984" width="2.6" height="0.9" fill="#fff" />
<rect x="305.5" y="288.084" width="2.6" height="0.9" fill="#fff" />
<rect x="346.4" y="290.084" width="2.6" height="0.9" fill="#fff" />
<rect x="305.5" y="298.338" width="2.6" height="0.9" fill="#fff" />
<rect x="346.4" y="300.338" width="2.6" height="0.9" fill="#fff" />
<rect x="305.5" y="300.438" width="2.6" height="0.9" fill="#fff" />
<rect x="346.4" y="302.438" width="2.6" height="0.9" fill="#fff" />
<rect x="305.5" y="302.538" width="2.6" height="0.9" fill="#fff" />
<rect x="346.4" y="304.538" width="2.6" height="0.9" fill="#fff" />
<rect x="305.5" y="312.792" width="2.6" height="0.9" fill="#fff" />
<rect x="346.4" y="314.792" width="2.6" height="0.9" fill="#fff" />
<rect x="305.5" y="314.892" width="2.6" height="0.9" fill="#fff" />
<rect x="346.4" y="316.892" width="2.6" height="0.9" fill="#fff" />
<rect x="305.5" y="316.992" width="2.6" height="0.9" fill="#fff" />
<rect x="346.4" y="318.992" width="2.6" height="0.9" fill="#fff" />
<rect x="305.5" y="327.246" width="2.6" height="0.9" fill="#fff" />
<rect x="346.4" y="329.246" width="2.6" height="0.9" fill="#fff" />
<rect x="305.5" y="329.346" width="2.6" height="0.9" fill="#fff" />
<rect x="346.4" y="331.346" width="2.6" height="0.9" fill="#fff" />
<rect x="305.5" y="331.446" width="2.6" height="0.9" fill="#fff" />
<rect x="346.4" y="333.446" width="2.6" height="0.9" fill="#fff" />
<path d="M629,358 H652 Q654,358 654,360 Q652.5,365 654,371 Q655,378 654,385 Q652.5,391 654,395 Q654,397.5 652,397.5 H629 Q627,397.5 627,395 Q628.5,391 627,385 Q626,378 627,371 Q628.5,365 627,360 Q627,358 629,358 Z" fill="#fff" stroke="#000" stroke-width="1.25" shape-rendering="auto"/>
<rect x="75" y="223.8" width="13.5" height="7" fill="#000" />
<rect x="76.2" y="228.4" width="10.8" height="1.1" fill="#fff" />
<rect x="76.2" y="225.2" width="1.1" height="4.3" fill="#fff" />
<rect x="81" y="225.2" width="1.1" height="4.3" fill="#fff" />
<rect x="85.9" y="225.2" width="1.1" height="4.3" fill="#fff" />
<rect x="89" y="223.8" width="13.5" height="7" fill="#000" />
<rect x="90.2" y="228.4" width="10.8" height="1.1" fill="#fff" />
<rect x="90.2" y="225.2" width="1.1" height="4.3" fill="#fff" />
<rect x="95" y="225.2" width="1.1" height="4.3" fill="#fff" />
<rect x="99.9" y="225.2" width="1.1" height="4.3" fill="#fff" />
<polygon points="57.5,230.7 59.0,230.7 68.6,228.7 75.0,228.7 75.0,226.3 68.6,226.2 59.0,223.9 57.5,223.9" fill="#000" shape-rendering="auto"/>
<rect x="35.75" y="219.35" width="22.9" height="15.7" rx="3" ry="3" fill="#fff" stroke="#000" stroke-width="2.3" shape-rendering="auto"/>
<polygon points="56.0,228.6 59.0,228.6 64.0,227.4 59.0,226.0 56.0,226.0" fill="#fff" shape-rendering="auto"/>
<polygon points="119.8,224.1 118.3,224.1 108.8,226.2 102.5,226.2 102.5,228.8 108.8,228.8 118.3,230.9 119.8,230.9" fill="#000" shape-rendering="auto"/>
<rect x="118.45" y="219.75" width="23.8" height="15.4" rx="3" ry="3" fill="#fff" stroke="#000" stroke-width="2.3" shape-rendering="auto"/>
<polygon points="121.3,226.2 118.3,226.2 113.3,227.5 118.3,228.8 121.3,228.8" fill="#fff" shape-rendering="auto"/>
<polygon points="80.4,313.3 80.3,314.8 82.0,324.4 81.6,333.9 84.0,334.1 84.5,324.6 87.1,315.2 87.2,313.7" fill="#000" shape-rendering="auto"/>
<rect x="72.6" y="300.4" width="21.9" height="14.4" rx="3" ry="3" fill="#fff" stroke="#000" stroke-width="2.2" shape-rendering="auto"/>
<polygon points="82.5,311.9 82.4,314.9 83.5,320.0 85.0,315.1 85.1,312.1" fill="#fff" shape-rendering="auto"/>
<polygon points="59.5,325.8 60.6,326.9 65.4,328.7 71.6,334.9 73.4,333.1 67.2,326.9 65.4,322.1 64.3,321.0" fill="#000" shape-rendering="auto"/>
<rect x="32.9" y="309.4" width="32" height="16" rx="3" ry="3" fill="#fff" stroke="#000" stroke-width="2.4" shape-rendering="auto"/>
<polygon points="60.0,323.3 62.1,325.4 64.8,326.3 63.9,323.6 61.8,321.5" fill="#fff" shape-rendering="auto"/>
<polygon points="99.1,320.1 98.0,321.2 95.1,327.4 89.6,333.1 91.4,334.9 96.9,329.1 103.0,325.8 104.0,324.8" fill="#000" shape-rendering="auto"/>
<rect x="98.05" y="309.55" width="22.6" height="14.7" rx="3" ry="3" fill="#fff" stroke="#000" stroke-width="1.5" shape-rendering="auto"/>
<polygon points="101.6,320.4 99.6,322.6 98.0,326.1 101.4,324.4 103.5,322.2" fill="#fff" shape-rendering="auto"/>
<polygon points="40.5,344.9 42.0,344.9 50.8,342.8 58.0,342.8 58.0,340.2 50.8,340.2 42.0,338.1 40.5,338.1" fill="#000" shape-rendering="auto"/>
<rect x="8.3" y="333.8" width="33.5" height="15.6" rx="3" ry="3" fill="#fff" stroke="#000" stroke-width="2.4" shape-rendering="auto"/>
<polygon points="39.0,342.8 42.0,342.8 46.8,341.5 42.0,340.2 39.0,340.2" fill="#fff" shape-rendering="auto"/>
<polygon points="121.4,337.0 119.9,337.1 110.8,339.6 103.2,340.0 103.4,342.4 110.9,342.1 120.1,343.9 121.6,343.8" fill="#000" shape-rendering="auto"/>
<rect x="120.1" y="332.5" width="22.7" height="15.8" rx="3" ry="3" fill="#fff" stroke="#000" stroke-width="2.2" shape-rendering="auto"/>
<polygon points="122.9,339.1 119.9,339.2 115.0,340.7 120.1,341.8 123.1,341.7" fill="#fff" shape-rendering="auto"/>
<polygon points="57.7,364.0 58.8,363.0 60.7,358.3 66.9,352.4 65.1,350.6 59.0,356.4 54.2,358.0 53.1,359.1" fill="#000" shape-rendering="auto"/>
<rect x="27.4" y="359" width="30.9" height="15.4" rx="3" ry="3" fill="#fff" stroke="#000" stroke-width="2.4" shape-rendering="auto"/>
<polygon points="55.2,363.5 57.4,361.4 58.3,358.8 55.6,359.6 53.4,361.6" fill="#fff" shape-rendering="auto"/>
<polygon points="108.6,355.5 107.6,354.3 102.6,351.6 97.5,345.5 95.5,347.1 100.6,353.2 102.4,358.7 103.3,359.8" fill="#000" shape-rendering="auto"/>
<rect x="103.4" y="355" width="22.3" height="14.5" rx="3" ry="3" fill="#fff" stroke="#000" stroke-width="2.2" shape-rendering="auto"/>
<polygon points="107.9,358.0 106.0,355.7 103.1,354.3 104.0,357.3 105.9,359.6" fill="#fff" shape-rendering="auto"/>
<polygon points="82.7,370.0 82.7,368.5 80.3,360.9 80.0,351.5 77.6,351.5 77.8,360.9 75.9,368.7 75.9,370.2" fill="#000" shape-rendering="auto"/>
<rect x="64.5" y="368.8" width="30.9" height="14.5" rx="3" ry="3" fill="#fff" stroke="#000" stroke-width="2.4" shape-rendering="auto"/>
<polygon points="80.7,371.6 80.6,368.6 79.2,364.4 78.0,368.6 78.1,371.6" fill="#fff" shape-rendering="auto"/>
<rect x="57" y="333" width="47" height="13.5" fill="#000" />
<rect x="57" y="346.5" width="24" height="5.5" fill="#000" />
<line x1="58" y1="334.2" x2="103" y2="334.2" stroke="#fff" stroke-width="0.9" stroke-dasharray="4.2,1.6"/>
<line x1="58" y1="339.3" x2="103" y2="339.3" stroke="#fff" stroke-width="0.9" stroke-dasharray="4.2,1.6"/>
<line x1="58" y1="345.2" x2="103" y2="345.2" stroke="#fff" stroke-width="0.9" stroke-dasharray="4.2,1.6"/>
<rect x="59" y="335.6" width="3" height="2.4" fill="#fff" />
<rect x="65" y="335.6" width="3" height="2.4" fill="#fff" />
<rect x="71" y="335.6" width="3" height="2.4" fill="#fff" />
<rect x="76.5" y="335.6" width="2.5" height="2.4" fill="#fff" />
<rect x="74.2" y="334" width="1" height="17" fill="#fff" />
<rect x="98.3" y="334.5" width="1" height="11.5" fill="#fff" />
<rect x="29.2" y="386.2" width="84" height="23.5" fill="#000" />
<rect x="31.7" y="388.2" width="3.2" height="4.4" fill="#fff" />
<rect x="31.7" y="403" width="3.2" height="5.2" fill="#fff" />
<rect x="37.59" y="388.2" width="3.2" height="4.4" fill="#fff" />
<rect x="37.59" y="403" width="3.2" height="5.2" fill="#fff" />
<rect x="43.48" y="388.2" width="3.2" height="4.4" fill="#fff" />
<rect x="43.48" y="403" width="3.2" height="5.2" fill="#fff" />
<rect x="49.37" y="388.2" width="3.2" height="4.4" fill="#fff" />
<rect x="49.37" y="403" width="3.2" height="5.2" fill="#fff" />
<rect x="55.26" y="388.2" width="3.2" height="4.4" fill="#fff" />
<rect x="55.26" y="403" width="3.2" height="5.2" fill="#fff" />
<rect x="61.15" y="388.2" width="3.2" height="4.4" fill="#fff" />
<rect x="61.15" y="403" width="3.2" height="5.2" fill="#fff" />
<rect x="67.04" y="388.2" width="3.2" height="4.4" fill="#fff" />
<rect x="67.04" y="403" width="3.2" height="5.2" fill="#fff" />
<rect x="72.93" y="388.2" width="3.2" height="4.4" fill="#fff" />
<rect x="72.93" y="403" width="3.2" height="5.2" fill="#fff" />
<rect x="78.82" y="388.2" width="3.2" height="4.4" fill="#fff" />
<rect x="78.82" y="403" width="3.2" height="5.2" fill="#fff" />
<rect x="84.71" y="388.2" width="3.2" height="4.4" fill="#fff" />
<rect x="84.71" y="403" width="3.2" height="5.2" fill="#fff" />
<rect x="90.6" y="388.2" width="3.2" height="4.4" fill="#fff" />
<rect x="90.6" y="403" width="3.2" height="5.2" fill="#fff" />
<rect x="96.49" y="388.2" width="3.2" height="4.4" fill="#fff" />
<rect x="96.49" y="403" width="3.2" height="5.2" fill="#fff" />
<rect x="102.38" y="388.2" width="3.2" height="4.4" fill="#fff" />
<rect x="102.38" y="403" width="3.2" height="5.2" fill="#fff" />
<rect x="108.27" y="388.2" width="3.2" height="4.4" fill="#fff" />
<rect x="108.27" y="403" width="3.2" height="5.2" fill="#fff" />
<rect x="37.2" y="394.8" width="34" height="5.2" fill="#fff" />
<rect x="76.2" y="394.8" width="33" height="5.2" fill="#fff" />
<path d="M29.2,395.2 h1.5 a2.2,2.2 0 0 1 0,4.4 h-1.5 z" fill="#fff" shape-rendering="auto"/>
<rect x="29.2" y="411.2" width="84" height="24.8" fill="#000" />
<rect x="31.7" y="413.9" width="3.2" height="4.4" fill="#fff" />
<rect x="31.7" y="429" width="3.2" height="5" fill="#fff" />
<rect x="37.59" y="413.9" width="3.2" height="4.4" fill="#fff" />
<rect x="37.59" y="429" width="3.2" height="5" fill="#fff" />
<rect x="43.48" y="413.9" width="3.2" height="4.4" fill="#fff" />
<rect x="43.48" y="429" width="3.2" height="5" fill="#fff" />
<rect x="49.37" y="413.9" width="3.2" height="4.4" fill="#fff" />
<rect x="49.37" y="429" width="3.2" height="5" fill="#fff" />
<rect x="55.26" y="413.9" width="3.2" height="4.4" fill="#fff" />
<rect x="55.26" y="429" width="3.2" height="5" fill="#fff" />
<rect x="61.15" y="413.9" width="3.2" height="4.4" fill="#fff" />
<rect x="61.15" y="429" width="3.2" height="5" fill="#fff" />
<rect x="67.04" y="413.9" width="3.2" height="4.4" fill="#fff" />
<rect x="67.04" y="429" width="3.2" height="5" fill="#fff" />
<rect x="72.93" y="413.9" width="3.2" height="4.4" fill="#fff" />
<rect x="72.93" y="429" width="3.2" height="5" fill="#fff" />
<rect x="78.82" y="413.9" width="3.2" height="4.4" fill="#fff" />
<rect x="78.82" y="429" width="3.2" height="5" fill="#fff" />
<rect x="84.71" y="413.9" width="3.2" height="4.4" fill="#fff" />
<rect x="84.71" y="429" width="3.2" height="5" fill="#fff" />
<rect x="90.6" y="413.9" width="3.2" height="4.4" fill="#fff" />
<rect x="90.6" y="429" width="3.2" height="5" fill="#fff" />
<rect x="96.49" y="413.9" width="3.2" height="4.4" fill="#fff" />
<rect x="96.49" y="429" width="3.2" height="5" fill="#fff" />
<rect x="102.38" y="413.9" width="3.2" height="4.4" fill="#fff" />
<rect x="102.38" y="429" width="3.2" height="5" fill="#fff" />
<rect x="108.27" y="413.9" width="3.2" height="4.4" fill="#fff" />
<rect x="108.27" y="429" width="3.2" height="5" fill="#fff" />
<rect x="37.2" y="421" width="34" height="4.7" fill="#fff" />
<rect x="76.2" y="421" width="33" height="4.7" fill="#fff" />
<path d="M29.2,421.15 h1.5 a2.2,2.2 0 0 1 0,4.4 h-1.5 z" fill="#fff" shape-rendering="auto"/>
<rect x="119" y="411.2" width="84" height="24.8" fill="#000" />
<rect x="121.5" y="413.9" width="3.2" height="4.4" fill="#fff" />
<rect x="121.5" y="429" width="3.2" height="5" fill="#fff" />
<rect x="127.39" y="413.9" width="3.2" height="4.4" fill="#fff" />
<rect x="127.39" y="429" width="3.2" height="5" fill="#fff" />
<rect x="133.28" y="413.9" width="3.2" height="4.4" fill="#fff" />
<rect x="133.28" y="429" width="3.2" height="5" fill="#fff" />
<rect x="139.17" y="413.9" width="3.2" height="4.4" fill="#fff" />
<rect x="139.17" y="429" width="3.2" height="5" fill="#fff" />
<rect x="145.06" y="413.9" width="3.2" height="4.4" fill="#fff" />
<rect x="145.06" y="429" width="3.2" height="5" fill="#fff" />
<rect x="150.95" y="413.9" width="3.2" height="4.4" fill="#fff" />
<rect x="150.95" y="429" width="3.2" height="5" fill="#fff" />
<rect x="156.84" y="413.9" width="3.2" height="4.4" fill="#fff" />
<rect x="156.84" y="429" width="3.2" height="5" fill="#fff" />
<rect x="162.73" y="413.9" width="3.2" height="4.4" fill="#fff" />
<rect x="162.73" y="429" width="3.2" height="5" fill="#fff" />
<rect x="168.62" y="413.9" width="3.2" height="4.4" fill="#fff" />
<rect x="168.62" y="429" width="3.2" height="5" fill="#fff" />
<rect x="174.51" y="413.9" width="3.2" height="4.4" fill="#fff" />
<rect x="174.51" y="429" width="3.2" height="5" fill="#fff" />
<rect x="180.4" y="413.9" width="3.2" height="4.4" fill="#fff" />
<rect x="180.4" y="429" width="3.2" height="5" fill="#fff" />
<rect x="186.29" y="413.9" width="3.2" height="4.4" fill="#fff" />
<rect x="186.29" y="429" width="3.2" height="5" fill="#fff" />
<rect x="192.18" y="413.9" width="3.2" height="4.4" fill="#fff" />
<rect x="192.18" y="429" width="3.2" height="5" fill="#fff" />
<rect x="198.07" y="413.9" width="3.2" height="4.4" fill="#fff" />
<rect x="198.07" y="429" width="3.2" height="5" fill="#fff" />
<rect x="127" y="421" width="34" height="4.7" fill="#fff" />
<rect x="166" y="421" width="33" height="4.7" fill="#fff" />
<path d="M119,421.15 h1.5 a2.2,2.2 0 0 1 0,4.4 h-1.5 z" fill="#fff" shape-rendering="auto"/>
<rect x="29.2" y="437.9" width="84" height="24.8" fill="#000" />
<rect x="31.7" y="440.6" width="3.2" height="4.4" fill="#fff" />
<rect x="31.7" y="455.7" width="3.2" height="5" fill="#fff" />
<rect x="37.59" y="440.6" width="3.2" height="4.4" fill="#fff" />
<rect x="37.59" y="455.7" width="3.2" height="5" fill="#fff" />
<rect x="43.48" y="440.6" width="3.2" height="4.4" fill="#fff" />
<rect x="43.48" y="455.7" width="3.2" height="5" fill="#fff" />
<rect x="49.37" y="440.6" width="3.2" height="4.4" fill="#fff" />
<rect x="49.37" y="455.7" width="3.2" height="5" fill="#fff" />
<rect x="55.26" y="440.6" width="3.2" height="4.4" fill="#fff" />
<rect x="55.26" y="455.7" width="3.2" height="5" fill="#fff" />
<rect x="61.15" y="440.6" width="3.2" height="4.4" fill="#fff" />
<rect x="61.15" y="455.7" width="3.2" height="5" fill="#fff" />
<rect x="67.04" y="440.6" width="3.2" height="4.4" fill="#fff" />
<rect x="67.04" y="455.7" width="3.2" height="5" fill="#fff" />
<rect x="72.93" y="440.6" width="3.2" height="4.4" fill="#fff" />
<rect x="72.93" y="455.7" width="3.2" height="5" fill="#fff" />
<rect x="78.82" y="440.6" width="3.2" height="4.4" fill="#fff" />
<rect x="78.82" y="455.7" width="3.2" height="5" fill="#fff" />
<rect x="84.71" y="440.6" width="3.2" height="4.4" fill="#fff" />
<rect x="84.71" y="455.7" width="3.2" height="5" fill="#fff" />
<rect x="90.6" y="440.6" width="3.2" height="4.4" fill="#fff" />
<rect x="90.6" y="455.7" width="3.2" height="5" fill="#fff" />
<rect x="96.49" y="440.6" width="3.2" height="4.4" fill="#fff" />
<rect x="96.49" y="455.7" width="3.2" height="5" fill="#fff" />
<rect x="102.38" y="440.6" width="3.2" height="4.4" fill="#fff" />
<rect x="102.38" y="455.7" width="3.2" height="5" fill="#fff" />
<rect x="108.27" y="440.6" width="3.2" height="4.4" fill="#fff" />
<rect x="108.27" y="455.7" width="3.2" height="5" fill="#fff" />
<rect x="37.2" y="447.7" width="34" height="4.7" fill="#fff" />
<rect x="76.2" y="447.7" width="33" height="4.7" fill="#fff" />
<path d="M29.2,447.84999999999997 h1.5 a2.2,2.2 0 0 1 0,4.4 h-1.5 z" fill="#fff" shape-rendering="auto"/>
<rect x="119" y="437.9" width="84" height="24.8" fill="#000" />
<rect x="121.5" y="440.6" width="3.2" height="4.4" fill="#fff" />
<rect x="121.5" y="455.7" width="3.2" height="5" fill="#fff" />
<rect x="127.39" y="440.6" width="3.2" height="4.4" fill="#fff" />
<rect x="127.39" y="455.7" width="3.2" height="5" fill="#fff" />
<rect x="133.28" y="440.6" width="3.2" height="4.4" fill="#fff" />
<rect x="133.28" y="455.7" width="3.2" height="5" fill="#fff" />
<rect x="139.17" y="440.6" width="3.2" height="4.4" fill="#fff" />
<rect x="139.17" y="455.7" width="3.2" height="5" fill="#fff" />
<rect x="145.06" y="440.6" width="3.2" height="4.4" fill="#fff" />
<rect x="145.06" y="455.7" width="3.2" height="5" fill="#fff" />
<rect x="150.95" y="440.6" width="3.2" height="4.4" fill="#fff" />
<rect x="150.95" y="455.7" width="3.2" height="5" fill="#fff" />
<rect x="156.84" y="440.6" width="3.2" height="4.4" fill="#fff" />
<rect x="156.84" y="455.7" width="3.2" height="5" fill="#fff" />
<rect x="162.73" y="440.6" width="3.2" height="4.4" fill="#fff" />
<rect x="162.73" y="455.7" width="3.2" height="5" fill="#fff" />
<rect x="168.62" y="440.6" width="3.2" height="4.4" fill="#fff" />
<rect x="168.62" y="455.7" width="3.2" height="5" fill="#fff" />
<rect x="174.51" y="440.6" width="3.2" height="4.4" fill="#fff" />
<rect x="174.51" y="455.7" width="3.2" height="5" fill="#fff" />
<rect x="180.4" y="440.6" width="3.2" height="4.4" fill="#fff" />
<rect x="180.4" y="455.7" width="3.2" height="5" fill="#fff" />
<rect x="186.29" y="440.6" width="3.2" height="4.4" fill="#fff" />
<rect x="186.29" y="455.7" width="3.2" height="5" fill="#fff" />
<rect x="192.18" y="440.6" width="3.2" height="4.4" fill="#fff" />
<rect x="192.18" y="455.7" width="3.2" height="5" fill="#fff" />
<rect x="198.07" y="440.6" width="3.2" height="4.4" fill="#fff" />
<rect x="198.07" y="455.7" width="3.2" height="5" fill="#fff" />
<rect x="127" y="447.7" width="34" height="4.7" fill="#fff" />
<rect x="166" y="447.7" width="33" height="4.7" fill="#fff" />
<path d="M119,447.84999999999997 h1.5 a2.2,2.2 0 0 1 0,4.4 h-1.5 z" fill="#fff" shape-rendering="auto"/>
<rect x="29.2" y="464" width="84" height="24.8" fill="#000" />
<rect x="31.7" y="466.7" width="3.2" height="4.4" fill="#fff" />
<rect x="31.7" y="481.8" width="3.2" height="5" fill="#fff" />
<rect x="37.59" y="466.7" width="3.2" height="4.4" fill="#fff" />
<rect x="37.59" y="481.8" width="3.2" height="5" fill="#fff" />
<rect x="43.48" y="466.7" width="3.2" height="4.4" fill="#fff" />
<rect x="43.48" y="481.8" width="3.2" height="5" fill="#fff" />
<rect x="49.37" y="466.7" width="3.2" height="4.4" fill="#fff" />
<rect x="49.37" y="481.8" width="3.2" height="5" fill="#fff" />
<rect x="55.26" y="466.7" width="3.2" height="4.4" fill="#fff" />
<rect x="55.26" y="481.8" width="3.2" height="5" fill="#fff" />
<rect x="61.15" y="466.7" width="3.2" height="4.4" fill="#fff" />
<rect x="61.15" y="481.8" width="3.2" height="5" fill="#fff" />
<rect x="67.04" y="466.7" width="3.2" height="4.4" fill="#fff" />
<rect x="67.04" y="481.8" width="3.2" height="5" fill="#fff" />
<rect x="72.93" y="466.7" width="3.2" height="4.4" fill="#fff" />
<rect x="72.93" y="481.8" width="3.2" height="5" fill="#fff" />
<rect x="78.82" y="466.7" width="3.2" height="4.4" fill="#fff" />
<rect x="78.82" y="481.8" width="3.2" height="5" fill="#fff" />
<rect x="84.71" y="466.7" width="3.2" height="4.4" fill="#fff" />
<rect x="84.71" y="481.8" width="3.2" height="5" fill="#fff" />
<rect x="90.6" y="466.7" width="3.2" height="4.4" fill="#fff" />
<rect x="90.6" y="481.8" width="3.2" height="5" fill="#fff" />
<rect x="96.49" y="466.7" width="3.2" height="4.4" fill="#fff" />
<rect x="96.49" y="481.8" width="3.2" height="5" fill="#fff" />
<rect x="102.38" y="466.7" width="3.2" height="4.4" fill="#fff" />
<rect x="102.38" y="481.8" width="3.2" height="5" fill="#fff" />
<rect x="108.27" y="466.7" width="3.2" height="4.4" fill="#fff" />
<rect x="108.27" y="481.8" width="3.2" height="5" fill="#fff" />
<rect x="37.2" y="473.8" width="34" height="4.7" fill="#fff" />
<rect x="76.2" y="473.8" width="33" height="4.7" fill="#fff" />
<path d="M29.2,473.95 h1.5 a2.2,2.2 0 0 1 0,4.4 h-1.5 z" fill="#fff" shape-rendering="auto"/>
<rect x="119" y="464" width="84" height="24.8" fill="#000" />
<rect x="121.5" y="466.7" width="3.2" height="4.4" fill="#fff" />
<rect x="121.5" y="481.8" width="3.2" height="5" fill="#fff" />
<rect x="127.39" y="466.7" width="3.2" height="4.4" fill="#fff" />
<rect x="127.39" y="481.8" width="3.2" height="5" fill="#fff" />
<rect x="133.28" y="466.7" width="3.2" height="4.4" fill="#fff" />
<rect x="133.28" y="481.8" width="3.2" height="5" fill="#fff" />
<rect x="139.17" y="466.7" width="3.2" height="4.4" fill="#fff" />
<rect x="139.17" y="481.8" width="3.2" height="5" fill="#fff" />
<rect x="145.06" y="466.7" width="3.2" height="4.4" fill="#fff" />
<rect x="145.06" y="481.8" width="3.2" height="5" fill="#fff" />
<rect x="150.95" y="466.7" width="3.2" height="4.4" fill="#fff" />
<rect x="150.95" y="481.8" width="3.2" height="5" fill="#fff" />
<rect x="156.84" y="466.7" width="3.2" height="4.4" fill="#fff" />
<rect x="156.84" y="481.8" width="3.2" height="5" fill="#fff" />
<rect x="162.73" y="466.7" width="3.2" height="4.4" fill="#fff" />
<rect x="162.73" y="481.8" width="3.2" height="5" fill="#fff" />
<rect x="168.62" y="466.7" width="3.2" height="4.4" fill="#fff" />
<rect x="168.62" y="481.8" width="3.2" height="5" fill="#fff" />
<rect x="174.51" y="466.7" width="3.2" height="4.4" fill="#fff" />
<rect x="174.51" y="481.8" width="3.2" height="5" fill="#fff" />
<rect x="180.4" y="466.7" width="3.2" height="4.4" fill="#fff" />
<rect x="180.4" y="481.8" width="3.2" height="5" fill="#fff" />
<rect x="186.29" y="466.7" width="3.2" height="4.4" fill="#fff" />
<rect x="186.29" y="481.8" width="3.2" height="5" fill="#fff" />
<rect x="192.18" y="466.7" width="3.2" height="4.4" fill="#fff" />
<rect x="192.18" y="481.8" width="3.2" height="5" fill="#fff" />
<rect x="198.07" y="466.7" width="3.2" height="4.4" fill="#fff" />
<rect x="198.07" y="481.8" width="3.2" height="5" fill="#fff" />
<rect x="127" y="473.8" width="34" height="4.7" fill="#fff" />
<rect x="166" y="473.8" width="33" height="4.7" fill="#fff" />
<path d="M119,473.95 h1.5 a2.2,2.2 0 0 1 0,4.4 h-1.5 z" fill="#fff" shape-rendering="auto"/>
<rect x="29.2" y="490.3" width="84" height="24.8" fill="#000" />
<rect x="31.7" y="493" width="3.2" height="4.4" fill="#fff" />
<rect x="31.7" y="508.1" width="3.2" height="5" fill="#fff" />
<rect x="37.59" y="493" width="3.2" height="4.4" fill="#fff" />
<rect x="37.59" y="508.1" width="3.2" height="5" fill="#fff" />
<rect x="43.48" y="493" width="3.2" height="4.4" fill="#fff" />
<rect x="43.48" y="508.1" width="3.2" height="5" fill="#fff" />
<rect x="49.37" y="493" width="3.2" height="4.4" fill="#fff" />
<rect x="49.37" y="508.1" width="3.2" height="5" fill="#fff" />
<rect x="55.26" y="493" width="3.2" height="4.4" fill="#fff" />
<rect x="55.26" y="508.1" width="3.2" height="5" fill="#fff" />
<rect x="61.15" y="493" width="3.2" height="4.4" fill="#fff" />
<rect x="61.15" y="508.1" width="3.2" height="5" fill="#fff" />
<rect x="67.04" y="493" width="3.2" height="4.4" fill="#fff" />
<rect x="67.04" y="508.1" width="3.2" height="5" fill="#fff" />
<rect x="72.93" y="493" width="3.2" height="4.4" fill="#fff" />
<rect x="72.93" y="508.1" width="3.2" height="5" fill="#fff" />
<rect x="78.82" y="493" width="3.2" height="4.4" fill="#fff" />
<rect x="78.82" y="508.1" width="3.2" height="5" fill="#fff" />
<rect x="84.71" y="493" width="3.2" height="4.4" fill="#fff" />
<rect x="84.71" y="508.1" width="3.2" height="5" fill="#fff" />
<rect x="90.6" y="493" width="3.2" height="4.4" fill="#fff" />
<rect x="90.6" y="508.1" width="3.2" height="5" fill="#fff" />
<rect x="96.49" y="493" width="3.2" height="4.4" fill="#fff" />
<rect x="96.49" y="508.1" width="3.2" height="5" fill="#fff" />
<rect x="102.38" y="493" width="3.2" height="4.4" fill="#fff" />
<rect x="102.38" y="508.1" width="3.2" height="5" fill="#fff" />
<rect x="108.27" y="493" width="3.2" height="4.4" fill="#fff" />
<rect x="108.27" y="508.1" width="3.2" height="5" fill="#fff" />
<rect x="37.2" y="500.1" width="34" height="4.7" fill="#fff" />
<rect x="76.2" y="500.1" width="33" height="4.7" fill="#fff" />
<path d="M29.2,500.25 h1.5 a2.2,2.2 0 0 1 0,4.4 h-1.5 z" fill="#fff" shape-rendering="auto"/>
<rect x="119" y="490.3" width="84" height="24.8" fill="#000" />
<rect x="121.5" y="493" width="3.2" height="4.4" fill="#fff" />
<rect x="121.5" y="508.1" width="3.2" height="5" fill="#fff" />
<rect x="127.39" y="493" width="3.2" height="4.4" fill="#fff" />
<rect x="127.39" y="508.1" width="3.2" height="5" fill="#fff" />
<rect x="133.28" y="493" width="3.2" height="4.4" fill="#fff" />
<rect x="133.28" y="508.1" width="3.2" height="5" fill="#fff" />
<rect x="139.17" y="493" width="3.2" height="4.4" fill="#fff" />
<rect x="139.17" y="508.1" width="3.2" height="5" fill="#fff" />
<rect x="145.06" y="493" width="3.2" height="4.4" fill="#fff" />
<rect x="145.06" y="508.1" width="3.2" height="5" fill="#fff" />
<rect x="150.95" y="493" width="3.2" height="4.4" fill="#fff" />
<rect x="150.95" y="508.1" width="3.2" height="5" fill="#fff" />
<rect x="156.84" y="493" width="3.2" height="4.4" fill="#fff" />
<rect x="156.84" y="508.1" width="3.2" height="5" fill="#fff" />
<rect x="162.73" y="493" width="3.2" height="4.4" fill="#fff" />
<rect x="162.73" y="508.1" width="3.2" height="5" fill="#fff" />
<rect x="168.62" y="493" width="3.2" height="4.4" fill="#fff" />
<rect x="168.62" y="508.1" width="3.2" height="5" fill="#fff" />
<rect x="174.51" y="493" width="3.2" height="4.4" fill="#fff" />
<rect x="174.51" y="508.1" width="3.2" height="5" fill="#fff" />
<rect x="180.4" y="493" width="3.2" height="4.4" fill="#fff" />
<rect x="180.4" y="508.1" width="3.2" height="5" fill="#fff" />
<rect x="186.29" y="493" width="3.2" height="4.4" fill="#fff" />
<rect x="186.29" y="508.1" width="3.2" height="5" fill="#fff" />
<rect x="192.18" y="493" width="3.2" height="4.4" fill="#fff" />
<rect x="192.18" y="508.1" width="3.2" height="5" fill="#fff" />
<rect x="198.07" y="493" width="3.2" height="4.4" fill="#fff" />
<rect x="198.07" y="508.1" width="3.2" height="5" fill="#fff" />
<rect x="127" y="500.1" width="34" height="4.7" fill="#fff" />
<rect x="166" y="500.1" width="33" height="4.7" fill="#fff" />
<path d="M119,500.25 h1.5 a2.2,2.2 0 0 1 0,4.4 h-1.5 z" fill="#fff" shape-rendering="auto"/>
<rect x="56.1" y="389.6" width="30.3" height="16.8" rx="3" ry="3" fill="#fff" stroke="#000" stroke-width="1.2" shape-rendering="auto"/>
<rect x="63.3" y="425.5" width="16.8" height="74.2" rx="2.5" fill="#fff" stroke="#000" stroke-width="1.6" shape-rendering="auto"/>
<rect x="153.10000000000002" y="425.5" width="16.8" height="74.2" rx="2.5" fill="#fff" stroke="#000" stroke-width="1.6" shape-rendering="auto"/>
<rect x="91.5" y="454.8" width="50" height="15.5" rx="2.5" fill="#fff" stroke="#000" stroke-width="1.4" shape-rendering="auto"/>
<rect x="301" y="355" width="226" height="20" fill="#000" />
<rect x="302" y="356" width="224" height="18" fill="#fff" />
<rect x="301" y="361.5" width="7" height="1" fill="#000" />
<rect x="301" y="369" width="7" height="1" fill="#000" />
<rect x="308" y="355" width="3.6" height="17.6" fill="#000" />
<polygon points="311.5,357.5 318.5,357.5 318.5,361.5 321.5,361.5 321.5,370.5 311.5,370.5" fill="#fff" stroke="#000" stroke-width="1"/>
<polyline points="313.5,357.5 313.5,361.5 315.5,361.5 315.5,363.5 318.5,363.5 318.5,361.5" fill="none" stroke="#000" stroke-width="1"/>
<rect x="518.7" y="361.5" width="8.3" height="1" fill="#000" />
<rect x="518.7" y="369" width="8.3" height="1" fill="#000" />
<rect x="515.1" y="355" width="3.6" height="17.6" fill="#000" />
<polygon points="515.2,357.5 508.2,357.5 508.2,361.5 505.2,361.5 505.2,370.5 515.2,370.5" fill="#fff" stroke="#000" stroke-width="1"/>
<polyline points="513.2,357.5 513.2,361.5 511.2,361.5 511.2,363.5 508.2,363.5 508.2,361.5" fill="none" stroke="#000" stroke-width="1"/>
<rect x="326" y="358.2" width="175" height="13.3" fill="#000" />
<rect x="329.9" y="359.2" width="2.2" height="3.8" fill="#fff" />
<rect x="329" y="365" width="4" height="5.4" fill="#fff" />
<rect x="330.5" y="371.5" width="1" height="1" fill="#000" />
<rect x="335.87" y="359.2" width="2.2" height="3.8" fill="#fff" />
<rect x="334.97" y="365" width="4" height="5.4" fill="#fff" />
<rect x="336.47" y="371.5" width="1" height="1" fill="#000" />
<rect x="342.34" y="359.2" width="1.2" height="3.8" fill="#fff" />
<rect x="340.94" y="365" width="4" height="5.4" fill="#fff" />
<rect x="342.44" y="371.5" width="1" height="1" fill="#000" />
<rect x="348.31" y="359.2" width="1.2" height="3.8" fill="#fff" />
<rect x="346.91" y="365" width="4" height="5.4" fill="#fff" />
<rect x="348.41" y="371.5" width="1" height="1" fill="#000" />
<rect x="354.28" y="359.2" width="1.2" height="3.8" fill="#fff" />
<rect x="352.88" y="365" width="4" height="5.4" fill="#fff" />
<rect x="354.38" y="371.5" width="1" height="1" fill="#000" />
<rect x="359.75" y="359.2" width="2.2" height="3.8" fill="#fff" />
<rect x="358.85" y="365" width="4" height="5.4" fill="#fff" />
<rect x="360.25" y="363" width="1.2" height="2" fill="#fff" />
<rect x="360.35" y="371.5" width="1" height="1" fill="#000" />
<rect x="365.72" y="359.2" width="2.2" height="3.8" fill="#fff" />
<rect x="364.82" y="365" width="4" height="5.4" fill="#fff" />
<rect x="366.22" y="363" width="1.2" height="2" fill="#fff" />
<rect x="366.32" y="371.5" width="1" height="1" fill="#000" />
<rect x="372.19" y="359.2" width="1.2" height="3.8" fill="#fff" />
<rect x="370.79" y="365" width="4" height="5.4" fill="#fff" />
<rect x="372.29" y="371.5" width="1" height="1" fill="#000" />
<rect x="378.16" y="359.2" width="1.2" height="3.8" fill="#fff" />
<rect x="376.76" y="365" width="4" height="5.4" fill="#fff" />
<rect x="378.26" y="371.5" width="1" height="1" fill="#000" />
<rect x="384.13" y="359.2" width="1.2" height="3.8" fill="#fff" />
<rect x="382.73" y="365" width="4" height="5.4" fill="#fff" />
<rect x="384.23" y="371.5" width="1" height="1" fill="#000" />
<rect x="389.6" y="359.2" width="2.2" height="3.8" fill="#fff" />
<rect x="388.7" y="365" width="4" height="5.4" fill="#fff" />
<rect x="390.2" y="371.5" width="1" height="1" fill="#000" />
<rect x="395.57" y="359.2" width="2.2" height="3.8" fill="#fff" />
<rect x="394.67" y="365" width="4" height="5.4" fill="#fff" />
<rect x="396.17" y="371.5" width="1" height="1" fill="#000" />
<rect x="402.04" y="359.2" width="1.2" height="3.8" fill="#fff" />
<rect x="400.64" y="365" width="4" height="5.4" fill="#fff" />
<rect x="402.04" y="363" width="1.2" height="2" fill="#fff" />
<rect x="402.14" y="371.5" width="1" height="1" fill="#000" />
<rect x="408.01" y="359.2" width="1.2" height="3.8" fill="#fff" />
<rect x="406.61" y="365" width="4" height="5.4" fill="#fff" />
<rect x="408.01" y="363" width="1.2" height="2" fill="#fff" />
<rect x="408.11" y="371.5" width="1" height="1" fill="#000" />
<rect x="413.98" y="359.2" width="1.2" height="3.8" fill="#fff" />
<rect x="412.58" y="365" width="4" height="5.4" fill="#fff" />
<rect x="414.08" y="371.5" width="1" height="1" fill="#000" />
<rect x="419.45" y="359.2" width="2.2" height="3.8" fill="#fff" />
<rect x="418.55" y="365" width="4" height="5.4" fill="#fff" />
<rect x="420.05" y="371.5" width="1" height="1" fill="#000" />
<rect x="425.42" y="359.2" width="2.2" height="3.8" fill="#fff" />
<rect x="424.52" y="365" width="4" height="5.4" fill="#fff" />
<rect x="426.02" y="371.5" width="1" height="1" fill="#000" />
<rect x="431.89" y="359.2" width="1.2" height="3.8" fill="#fff" />
<rect x="430.49" y="365" width="4" height="5.4" fill="#fff" />
<rect x="431.99" y="371.5" width="1" height="1" fill="#000" />
<rect x="437.86" y="359.2" width="1.2" height="3.8" fill="#fff" />
<rect x="436.46" y="365" width="4" height="5.4" fill="#fff" />
<rect x="437.96" y="371.5" width="1" height="1" fill="#000" />
<rect x="443.83" y="359.2" width="1.2" height="3.8" fill="#fff" />
<rect x="442.43" y="365" width="4" height="5.4" fill="#fff" />
<rect x="443.83" y="363" width="1.2" height="2" fill="#fff" />
<rect x="443.93" y="371.5" width="1" height="1" fill="#000" />
<rect x="449.3" y="359.2" width="2.2" height="3.8" fill="#fff" />
<rect x="448.4" y="365" width="4" height="5.4" fill="#fff" />
<rect x="449.8" y="363" width="1.2" height="2" fill="#fff" />
<rect x="449.9" y="371.5" width="1" height="1" fill="#000" />
<rect x="455.27" y="359.2" width="2.2" height="3.8" fill="#fff" />
<rect x="454.37" y="365" width="4" height="5.4" fill="#fff" />
<rect x="455.87" y="371.5" width="1" height="1" fill="#000" />
<rect x="461.74" y="359.2" width="1.2" height="3.8" fill="#fff" />
<rect x="460.34" y="365" width="4" height="5.4" fill="#fff" />
<rect x="461.84" y="371.5" width="1" height="1" fill="#000" />
<rect x="467.71" y="359.2" width="1.2" height="3.8" fill="#fff" />
<rect x="466.31" y="365" width="4" height="5.4" fill="#fff" />
<rect x="467.81" y="371.5" width="1" height="1" fill="#000" />
<rect x="473.68" y="359.2" width="1.2" height="3.8" fill="#fff" />
<rect x="472.28" y="365" width="4" height="5.4" fill="#fff" />
<rect x="473.78" y="371.5" width="1" height="1" fill="#000" />
<rect x="479.15" y="359.2" width="2.2" height="3.8" fill="#fff" />
<rect x="478.25" y="365" width="4" height="5.4" fill="#fff" />
<rect x="479.75" y="371.5" width="1" height="1" fill="#000" />
<rect x="485.12" y="359.2" width="2.2" height="3.8" fill="#fff" />
<rect x="484.22" y="365" width="4" height="5.4" fill="#fff" />
<rect x="485.62" y="363" width="1.2" height="2" fill="#fff" />
<rect x="485.72" y="371.5" width="1" height="1" fill="#000" />
<rect x="491.59" y="359.2" width="1.2" height="3.8" fill="#fff" />
<rect x="490.19" y="365" width="4" height="5.4" fill="#fff" />
<rect x="491.59" y="363" width="1.2" height="2" fill="#fff" />
<rect x="491.69" y="371.5" width="1" height="1" fill="#000" />
<rect x="497.56" y="359.2" width="1.2" height="3.8" fill="#fff" />
<rect x="496.16" y="365" width="4" height="5.4" fill="#fff" />
<rect x="497.66" y="371.5" width="1" height="1" fill="#000" />
<rect x="301" y="376" width="226" height="19" fill="#000" />
<rect x="302" y="377" width="224" height="17" fill="#fff" />
<rect x="301" y="382.5" width="7" height="1" fill="#000" />
<rect x="301" y="390" width="7" height="1" fill="#000" />
<rect x="308" y="376" width="3.6" height="17.6" fill="#000" />
<polygon points="311.5,378.5 318.5,378.5 318.5,382.5 321.5,382.5 321.5,391.5 311.5,391.5" fill="#fff" stroke="#000" stroke-width="1"/>
<polyline points="313.5,378.5 313.5,382.5 315.5,382.5 315.5,384.5 318.5,384.5 318.5,382.5" fill="none" stroke="#000" stroke-width="1"/>
<rect x="518.7" y="382.5" width="8.3" height="1" fill="#000" />
<rect x="518.7" y="390" width="8.3" height="1" fill="#000" />
<rect x="515.1" y="376" width="3.6" height="17.6" fill="#000" />
<polygon points="515.2,378.5 508.2,378.5 508.2,382.5 505.2,382.5 505.2,391.5 515.2,391.5" fill="#fff" stroke="#000" stroke-width="1"/>
<polyline points="513.2,378.5 513.2,382.5 511.2,382.5 511.2,384.5 508.2,384.5 508.2,382.5" fill="none" stroke="#000" stroke-width="1"/>
<rect x="326" y="379.2" width="175" height="13.3" fill="#000" />
<rect x="329.9" y="380.2" width="2.2" height="3.8" fill="#fff" />
<rect x="329" y="386" width="4" height="5.4" fill="#fff" />
<rect x="330.5" y="392.5" width="1" height="1" fill="#000" />
<rect x="335.87" y="380.2" width="2.2" height="3.8" fill="#fff" />
<rect x="334.97" y="386" width="4" height="5.4" fill="#fff" />
<rect x="336.47" y="392.5" width="1" height="1" fill="#000" />
<rect x="342.34" y="380.2" width="1.2" height="3.8" fill="#fff" />
<rect x="340.94" y="386" width="4" height="5.4" fill="#fff" />
<rect x="342.44" y="392.5" width="1" height="1" fill="#000" />
<rect x="348.31" y="380.2" width="1.2" height="3.8" fill="#fff" />
<rect x="346.91" y="386" width="4" height="5.4" fill="#fff" />
<rect x="348.41" y="392.5" width="1" height="1" fill="#000" />
<rect x="354.28" y="380.2" width="1.2" height="3.8" fill="#fff" />
<rect x="352.88" y="386" width="4" height="5.4" fill="#fff" />
<rect x="354.38" y="392.5" width="1" height="1" fill="#000" />
<rect x="359.75" y="380.2" width="2.2" height="3.8" fill="#fff" />
<rect x="358.85" y="386" width="4" height="5.4" fill="#fff" />
<rect x="360.25" y="384" width="1.2" height="2" fill="#fff" />
<rect x="360.35" y="392.5" width="1" height="1" fill="#000" />
<rect x="365.72" y="380.2" width="2.2" height="3.8" fill="#fff" />
<rect x="364.82" y="386" width="4" height="5.4" fill="#fff" />
<rect x="366.22" y="384" width="1.2" height="2" fill="#fff" />
<rect x="366.32" y="392.5" width="1" height="1" fill="#000" />
<rect x="372.19" y="380.2" width="1.2" height="3.8" fill="#fff" />
<rect x="370.79" y="386" width="4" height="5.4" fill="#fff" />
<rect x="372.29" y="392.5" width="1" height="1" fill="#000" />
<rect x="378.16" y="380.2" width="1.2" height="3.8" fill="#fff" />
<rect x="376.76" y="386" width="4" height="5.4" fill="#fff" />
<rect x="378.26" y="392.5" width="1" height="1" fill="#000" />
<rect x="384.13" y="380.2" width="1.2" height="3.8" fill="#fff" />
<rect x="382.73" y="386" width="4" height="5.4" fill="#fff" />
<rect x="384.23" y="392.5" width="1" height="1" fill="#000" />
<rect x="389.6" y="380.2" width="2.2" height="3.8" fill="#fff" />
<rect x="388.7" y="386" width="4" height="5.4" fill="#fff" />
<rect x="390.2" y="392.5" width="1" height="1" fill="#000" />
<rect x="395.57" y="380.2" width="2.2" height="3.8" fill="#fff" />
<rect x="394.67" y="386" width="4" height="5.4" fill="#fff" />
<rect x="396.17" y="392.5" width="1" height="1" fill="#000" />
<rect x="402.04" y="380.2" width="1.2" height="3.8" fill="#fff" />
<rect x="400.64" y="386" width="4" height="5.4" fill="#fff" />
<rect x="402.04" y="384" width="1.2" height="2" fill="#fff" />
<rect x="402.14" y="392.5" width="1" height="1" fill="#000" />
<rect x="408.01" y="380.2" width="1.2" height="3.8" fill="#fff" />
<rect x="406.61" y="386" width="4" height="5.4" fill="#fff" />
<rect x="408.01" y="384" width="1.2" height="2" fill="#fff" />
<rect x="408.11" y="392.5" width="1" height="1" fill="#000" />
<rect x="413.98" y="380.2" width="1.2" height="3.8" fill="#fff" />
<rect x="412.58" y="386" width="4" height="5.4" fill="#fff" />
<rect x="414.08" y="392.5" width="1" height="1" fill="#000" />
<rect x="419.45" y="380.2" width="2.2" height="3.8" fill="#fff" />
<rect x="418.55" y="386" width="4" height="5.4" fill="#fff" />
<rect x="420.05" y="392.5" width="1" height="1" fill="#000" />
<rect x="425.42" y="380.2" width="2.2" height="3.8" fill="#fff" />
<rect x="424.52" y="386" width="4" height="5.4" fill="#fff" />
<rect x="426.02" y="392.5" width="1" height="1" fill="#000" />
<rect x="431.89" y="380.2" width="1.2" height="3.8" fill="#fff" />
<rect x="430.49" y="386" width="4" height="5.4" fill="#fff" />
<rect x="431.99" y="392.5" width="1" height="1" fill="#000" />
<rect x="437.86" y="380.2" width="1.2" height="3.8" fill="#fff" />
<rect x="436.46" y="386" width="4" height="5.4" fill="#fff" />
<rect x="437.96" y="392.5" width="1" height="1" fill="#000" />
<rect x="443.83" y="380.2" width="1.2" height="3.8" fill="#fff" />
<rect x="442.43" y="386" width="4" height="5.4" fill="#fff" />
<rect x="443.83" y="384" width="1.2" height="2" fill="#fff" />
<rect x="443.93" y="392.5" width="1" height="1" fill="#000" />
<rect x="449.3" y="380.2" width="2.2" height="3.8" fill="#fff" />
<rect x="448.4" y="386" width="4" height="5.4" fill="#fff" />
<rect x="449.8" y="384" width="1.2" height="2" fill="#fff" />
<rect x="449.9" y="392.5" width="1" height="1" fill="#000" />
<rect x="455.27" y="380.2" width="2.2" height="3.8" fill="#fff" />
<rect x="454.37" y="386" width="4" height="5.4" fill="#fff" />
<rect x="455.87" y="392.5" width="1" height="1" fill="#000" />
<rect x="461.74" y="380.2" width="1.2" height="3.8" fill="#fff" />
<rect x="460.34" y="386" width="4" height="5.4" fill="#fff" />
<rect x="461.84" y="392.5" width="1" height="1" fill="#000" />
<rect x="467.71" y="380.2" width="1.2" height="3.8" fill="#fff" />
<rect x="466.31" y="386" width="4" height="5.4" fill="#fff" />
<rect x="467.81" y="392.5" width="1" height="1" fill="#000" />
<rect x="473.68" y="380.2" width="1.2" height="3.8" fill="#fff" />
<rect x="472.28" y="386" width="4" height="5.4" fill="#fff" />
<rect x="473.78" y="392.5" width="1" height="1" fill="#000" />
<rect x="479.15" y="380.2" width="2.2" height="3.8" fill="#fff" />
<rect x="478.25" y="386" width="4" height="5.4" fill="#fff" />
<rect x="479.75" y="392.5" width="1" height="1" fill="#000" />
<rect x="485.12" y="380.2" width="2.2" height="3.8" fill="#fff" />
<rect x="484.22" y="386" width="4" height="5.4" fill="#fff" />
<rect x="485.62" y="384" width="1.2" height="2" fill="#fff" />
<rect x="485.72" y="392.5" width="1" height="1" fill="#000" />
<rect x="491.59" y="380.2" width="1.2" height="3.8" fill="#fff" />
<rect x="490.19" y="386" width="4" height="5.4" fill="#fff" />
<rect x="491.59" y="384" width="1.2" height="2" fill="#fff" />
<rect x="491.69" y="392.5" width="1" height="1" fill="#000" />
<rect x="497.56" y="380.2" width="1.2" height="3.8" fill="#fff" />
<rect x="496.16" y="386" width="4" height="5.4" fill="#fff" />
<rect x="497.66" y="392.5" width="1" height="1" fill="#000" />
<rect x="301" y="396" width="226" height="19" fill="#000" />
<rect x="302" y="397" width="224" height="17" fill="#fff" />
<rect x="301" y="402.5" width="7" height="1" fill="#000" />
<rect x="301" y="410" width="7" height="1" fill="#000" />
<rect x="308" y="396" width="3.6" height="17.6" fill="#000" />
<polygon points="311.5,398.5 318.5,398.5 318.5,402.5 321.5,402.5 321.5,411.5 311.5,411.5" fill="#fff" stroke="#000" stroke-width="1"/>
<polyline points="313.5,398.5 313.5,402.5 315.5,402.5 315.5,404.5 318.5,404.5 318.5,402.5" fill="none" stroke="#000" stroke-width="1"/>
<rect x="518.7" y="402.5" width="8.3" height="1" fill="#000" />
<rect x="518.7" y="410" width="8.3" height="1" fill="#000" />
<rect x="515.1" y="396" width="3.6" height="17.6" fill="#000" />
<polygon points="515.2,398.5 508.2,398.5 508.2,402.5 505.2,402.5 505.2,411.5 515.2,411.5" fill="#fff" stroke="#000" stroke-width="1"/>
<polyline points="513.2,398.5 513.2,402.5 511.2,402.5 511.2,404.5 508.2,404.5 508.2,402.5" fill="none" stroke="#000" stroke-width="1"/>
<rect x="326" y="399.2" width="175" height="13.3" fill="#000" />
<rect x="329.9" y="400.2" width="2.2" height="3.8" fill="#fff" />
<rect x="329" y="406" width="4" height="5.4" fill="#fff" />
<rect x="330.5" y="412.5" width="1" height="1" fill="#000" />
<rect x="335.87" y="400.2" width="2.2" height="3.8" fill="#fff" />
<rect x="334.97" y="406" width="4" height="5.4" fill="#fff" />
<rect x="336.47" y="412.5" width="1" height="1" fill="#000" />
<rect x="342.34" y="400.2" width="1.2" height="3.8" fill="#fff" />
<rect x="340.94" y="406" width="4" height="5.4" fill="#fff" />
<rect x="342.44" y="412.5" width="1" height="1" fill="#000" />
<rect x="348.31" y="400.2" width="1.2" height="3.8" fill="#fff" />
<rect x="346.91" y="406" width="4" height="5.4" fill="#fff" />
<rect x="348.41" y="412.5" width="1" height="1" fill="#000" />
<rect x="354.28" y="400.2" width="1.2" height="3.8" fill="#fff" />
<rect x="352.88" y="406" width="4" height="5.4" fill="#fff" />
<rect x="354.38" y="412.5" width="1" height="1" fill="#000" />
<rect x="359.75" y="400.2" width="2.2" height="3.8" fill="#fff" />
<rect x="358.85" y="406" width="4" height="5.4" fill="#fff" />
<rect x="360.25" y="404" width="1.2" height="2" fill="#fff" />
<rect x="360.35" y="412.5" width="1" height="1" fill="#000" />
<rect x="365.72" y="400.2" width="2.2" height="3.8" fill="#fff" />
<rect x="364.82" y="406" width="4" height="5.4" fill="#fff" />
<rect x="366.22" y="404" width="1.2" height="2" fill="#fff" />
<rect x="366.32" y="412.5" width="1" height="1" fill="#000" />
<rect x="372.19" y="400.2" width="1.2" height="3.8" fill="#fff" />
<rect x="370.79" y="406" width="4" height="5.4" fill="#fff" />
<rect x="372.29" y="412.5" width="1" height="1" fill="#000" />
<rect x="378.16" y="400.2" width="1.2" height="3.8" fill="#fff" />
<rect x="376.76" y="406" width="4" height="5.4" fill="#fff" />
<rect x="378.26" y="412.5" width="1" height="1" fill="#000" />
<rect x="384.13" y="400.2" width="1.2" height="3.8" fill="#fff" />
<rect x="382.73" y="406" width="4" height="5.4" fill="#fff" />
<rect x="384.23" y="412.5" width="1" height="1" fill="#000" />
<rect x="389.6" y="400.2" width="2.2" height="3.8" fill="#fff" />
<rect x="388.7" y="406" width="4" height="5.4" fill="#fff" />
<rect x="390.2" y="412.5" width="1" height="1" fill="#000" />
<rect x="395.57" y="400.2" width="2.2" height="3.8" fill="#fff" />
<rect x="394.67" y="406" width="4" height="5.4" fill="#fff" />
<rect x="396.17" y="412.5" width="1" height="1" fill="#000" />
<rect x="402.04" y="400.2" width="1.2" height="3.8" fill="#fff" />
<rect x="400.64" y="406" width="4" height="5.4" fill="#fff" />
<rect x="402.04" y="404" width="1.2" height="2" fill="#fff" />
<rect x="402.14" y="412.5" width="1" height="1" fill="#000" />
<rect x="408.01" y="400.2" width="1.2" height="3.8" fill="#fff" />
<rect x="406.61" y="406" width="4" height="5.4" fill="#fff" />
<rect x="408.01" y="404" width="1.2" height="2" fill="#fff" />
<rect x="408.11" y="412.5" width="1" height="1" fill="#000" />
<rect x="413.98" y="400.2" width="1.2" height="3.8" fill="#fff" />
<rect x="412.58" y="406" width="4" height="5.4" fill="#fff" />
<rect x="414.08" y="412.5" width="1" height="1" fill="#000" />
<rect x="419.45" y="400.2" width="2.2" height="3.8" fill="#fff" />
<rect x="418.55" y="406" width="4" height="5.4" fill="#fff" />
<rect x="420.05" y="412.5" width="1" height="1" fill="#000" />
<rect x="425.42" y="400.2" width="2.2" height="3.8" fill="#fff" />
<rect x="424.52" y="406" width="4" height="5.4" fill="#fff" />
<rect x="426.02" y="412.5" width="1" height="1" fill="#000" />
<rect x="431.89" y="400.2" width="1.2" height="3.8" fill="#fff" />
<rect x="430.49" y="406" width="4" height="5.4" fill="#fff" />
<rect x="431.99" y="412.5" width="1" height="1" fill="#000" />
<rect x="437.86" y="400.2" width="1.2" height="3.8" fill="#fff" />
<rect x="436.46" y="406" width="4" height="5.4" fill="#fff" />
<rect x="437.96" y="412.5" width="1" height="1" fill="#000" />
<rect x="443.83" y="400.2" width="1.2" height="3.8" fill="#fff" />
<rect x="442.43" y="406" width="4" height="5.4" fill="#fff" />
<rect x="443.83" y="404" width="1.2" height="2" fill="#fff" />
<rect x="443.93" y="412.5" width="1" height="1" fill="#000" />
<rect x="449.3" y="400.2" width="2.2" height="3.8" fill="#fff" />
<rect x="448.4" y="406" width="4" height="5.4" fill="#fff" />
<rect x="449.8" y="404" width="1.2" height="2" fill="#fff" />
<rect x="449.9" y="412.5" width="1" height="1" fill="#000" />
<rect x="455.27" y="400.2" width="2.2" height="3.8" fill="#fff" />
<rect x="454.37" y="406" width="4" height="5.4" fill="#fff" />
<rect x="455.87" y="412.5" width="1" height="1" fill="#000" />
<rect x="461.74" y="400.2" width="1.2" height="3.8" fill="#fff" />
<rect x="460.34" y="406" width="4" height="5.4" fill="#fff" />
<rect x="461.84" y="412.5" width="1" height="1" fill="#000" />
<rect x="467.71" y="400.2" width="1.2" height="3.8" fill="#fff" />
<rect x="466.31" y="406" width="4" height="5.4" fill="#fff" />
<rect x="467.81" y="412.5" width="1" height="1" fill="#000" />
<rect x="473.68" y="400.2" width="1.2" height="3.8" fill="#fff" />
<rect x="472.28" y="406" width="4" height="5.4" fill="#fff" />
<rect x="473.78" y="412.5" width="1" height="1" fill="#000" />
<rect x="479.15" y="400.2" width="2.2" height="3.8" fill="#fff" />
<rect x="478.25" y="406" width="4" height="5.4" fill="#fff" />
<rect x="479.75" y="412.5" width="1" height="1" fill="#000" />
<rect x="485.12" y="400.2" width="2.2" height="3.8" fill="#fff" />
<rect x="484.22" y="406" width="4" height="5.4" fill="#fff" />
<rect x="485.62" y="404" width="1.2" height="2" fill="#fff" />
<rect x="485.72" y="412.5" width="1" height="1" fill="#000" />
<rect x="491.59" y="400.2" width="1.2" height="3.8" fill="#fff" />
<rect x="490.19" y="406" width="4" height="5.4" fill="#fff" />
<rect x="491.59" y="404" width="1.2" height="2" fill="#fff" />
<rect x="491.69" y="412.5" width="1" height="1" fill="#000" />
<rect x="497.56" y="400.2" width="1.2" height="3.8" fill="#fff" />
<rect x="496.16" y="406" width="4" height="5.4" fill="#fff" />
<rect x="497.66" y="412.5" width="1" height="1" fill="#000" />
<rect x="301" y="416" width="226" height="19" fill="#000" />
<rect x="302" y="417" width="224" height="17" fill="#fff" />
<rect x="301" y="422.5" width="7" height="1" fill="#000" />
<rect x="301" y="430" width="7" height="1" fill="#000" />
<rect x="308" y="416" width="3.6" height="17.6" fill="#000" />
<polygon points="311.5,418.5 318.5,418.5 318.5,422.5 321.5,422.5 321.5,431.5 311.5,431.5" fill="#fff" stroke="#000" stroke-width="1"/>
<polyline points="313.5,418.5 313.5,422.5 315.5,422.5 315.5,424.5 318.5,424.5 318.5,422.5" fill="none" stroke="#000" stroke-width="1"/>
<rect x="518.7" y="422.5" width="8.3" height="1" fill="#000" />
<rect x="518.7" y="430" width="8.3" height="1" fill="#000" />
<rect x="515.1" y="416" width="3.6" height="17.6" fill="#000" />
<polygon points="515.2,418.5 508.2,418.5 508.2,422.5 505.2,422.5 505.2,431.5 515.2,431.5" fill="#fff" stroke="#000" stroke-width="1"/>
<polyline points="513.2,418.5 513.2,422.5 511.2,422.5 511.2,424.5 508.2,424.5 508.2,422.5" fill="none" stroke="#000" stroke-width="1"/>
<rect x="326" y="419.2" width="175" height="13.3" fill="#000" />
<rect x="329.9" y="420.2" width="2.2" height="3.8" fill="#fff" />
<rect x="329" y="426" width="4" height="5.4" fill="#fff" />
<rect x="330.5" y="432.5" width="1" height="1" fill="#000" />
<rect x="335.87" y="420.2" width="2.2" height="3.8" fill="#fff" />
<rect x="334.97" y="426" width="4" height="5.4" fill="#fff" />
<rect x="336.47" y="432.5" width="1" height="1" fill="#000" />
<rect x="342.34" y="420.2" width="1.2" height="3.8" fill="#fff" />
<rect x="340.94" y="426" width="4" height="5.4" fill="#fff" />
<rect x="342.44" y="432.5" width="1" height="1" fill="#000" />
<rect x="348.31" y="420.2" width="1.2" height="3.8" fill="#fff" />
<rect x="346.91" y="426" width="4" height="5.4" fill="#fff" />
<rect x="348.41" y="432.5" width="1" height="1" fill="#000" />
<rect x="354.28" y="420.2" width="1.2" height="3.8" fill="#fff" />
<rect x="352.88" y="426" width="4" height="5.4" fill="#fff" />
<rect x="354.38" y="432.5" width="1" height="1" fill="#000" />
<rect x="359.75" y="420.2" width="2.2" height="3.8" fill="#fff" />
<rect x="358.85" y="426" width="4" height="5.4" fill="#fff" />
<rect x="360.25" y="424" width="1.2" height="2" fill="#fff" />
<rect x="360.35" y="432.5" width="1" height="1" fill="#000" />
<rect x="365.72" y="420.2" width="2.2" height="3.8" fill="#fff" />
<rect x="364.82" y="426" width="4" height="5.4" fill="#fff" />
<rect x="366.22" y="424" width="1.2" height="2" fill="#fff" />
<rect x="366.32" y="432.5" width="1" height="1" fill="#000" />
<rect x="372.19" y="420.2" width="1.2" height="3.8" fill="#fff" />
<rect x="370.79" y="426" width="4" height="5.4" fill="#fff" />
<rect x="372.29" y="432.5" width="1" height="1" fill="#000" />
<rect x="378.16" y="420.2" width="1.2" height="3.8" fill="#fff" />
<rect x="376.76" y="426" width="4" height="5.4" fill="#fff" />
<rect x="378.26" y="432.5" width="1" height="1" fill="#000" />
<rect x="384.13" y="420.2" width="1.2" height="3.8" fill="#fff" />
<rect x="382.73" y="426" width="4" height="5.4" fill="#fff" />
<rect x="384.23" y="432.5" width="1" height="1" fill="#000" />
<rect x="389.6" y="420.2" width="2.2" height="3.8" fill="#fff" />
<rect x="388.7" y="426" width="4" height="5.4" fill="#fff" />
<rect x="390.2" y="432.5" width="1" height="1" fill="#000" />
<rect x="395.57" y="420.2" width="2.2" height="3.8" fill="#fff" />
<rect x="394.67" y="426" width="4" height="5.4" fill="#fff" />
<rect x="396.17" y="432.5" width="1" height="1" fill="#000" />
<rect x="402.04" y="420.2" width="1.2" height="3.8" fill="#fff" />
<rect x="400.64" y="426" width="4" height="5.4" fill="#fff" />
<rect x="402.04" y="424" width="1.2" height="2" fill="#fff" />
<rect x="402.14" y="432.5" width="1" height="1" fill="#000" />
<rect x="408.01" y="420.2" width="1.2" height="3.8" fill="#fff" />
<rect x="406.61" y="426" width="4" height="5.4" fill="#fff" />
<rect x="408.01" y="424" width="1.2" height="2" fill="#fff" />
<rect x="408.11" y="432.5" width="1" height="1" fill="#000" />
<rect x="413.98" y="420.2" width="1.2" height="3.8" fill="#fff" />
<rect x="412.58" y="426" width="4" height="5.4" fill="#fff" />
<rect x="414.08" y="432.5" width="1" height="1" fill="#000" />
<rect x="419.45" y="420.2" width="2.2" height="3.8" fill="#fff" />
<rect x="418.55" y="426" width="4" height="5.4" fill="#fff" />
<rect x="420.05" y="432.5" width="1" height="1" fill="#000" />
<rect x="425.42" y="420.2" width="2.2" height="3.8" fill="#fff" />
<rect x="424.52" y="426" width="4" height="5.4" fill="#fff" />
<rect x="426.02" y="432.5" width="1" height="1" fill="#000" />
<rect x="431.89" y="420.2" width="1.2" height="3.8" fill="#fff" />
<rect x="430.49" y="426" width="4" height="5.4" fill="#fff" />
<rect x="431.99" y="432.5" width="1" height="1" fill="#000" />
<rect x="437.86" y="420.2" width="1.2" height="3.8" fill="#fff" />
<rect x="436.46" y="426" width="4" height="5.4" fill="#fff" />
<rect x="437.96" y="432.5" width="1" height="1" fill="#000" />
<rect x="443.83" y="420.2" width="1.2" height="3.8" fill="#fff" />
<rect x="442.43" y="426" width="4" height="5.4" fill="#fff" />
<rect x="443.83" y="424" width="1.2" height="2" fill="#fff" />
<rect x="443.93" y="432.5" width="1" height="1" fill="#000" />
<rect x="449.3" y="420.2" width="2.2" height="3.8" fill="#fff" />
<rect x="448.4" y="426" width="4" height="5.4" fill="#fff" />
<rect x="449.8" y="424" width="1.2" height="2" fill="#fff" />
<rect x="449.9" y="432.5" width="1" height="1" fill="#000" />
<rect x="455.27" y="420.2" width="2.2" height="3.8" fill="#fff" />
<rect x="454.37" y="426" width="4" height="5.4" fill="#fff" />
<rect x="455.87" y="432.5" width="1" height="1" fill="#000" />
<rect x="461.74" y="420.2" width="1.2" height="3.8" fill="#fff" />
<rect x="460.34" y="426" width="4" height="5.4" fill="#fff" />
<rect x="461.84" y="432.5" width="1" height="1" fill="#000" />
<rect x="467.71" y="420.2" width="1.2" height="3.8" fill="#fff" />
<rect x="466.31" y="426" width="4" height="5.4" fill="#fff" />
<rect x="467.81" y="432.5" width="1" height="1" fill="#000" />
<rect x="473.68" y="420.2" width="1.2" height="3.8" fill="#fff" />
<rect x="472.28" y="426" width="4" height="5.4" fill="#fff" />
<rect x="473.78" y="432.5" width="1" height="1" fill="#000" />
<rect x="479.15" y="420.2" width="2.2" height="3.8" fill="#fff" />
<rect x="478.25" y="426" width="4" height="5.4" fill="#fff" />
<rect x="479.75" y="432.5" width="1" height="1" fill="#000" />
<rect x="485.12" y="420.2" width="2.2" height="3.8" fill="#fff" />
<rect x="484.22" y="426" width="4" height="5.4" fill="#fff" />
<rect x="485.62" y="424" width="1.2" height="2" fill="#fff" />
<rect x="485.72" y="432.5" width="1" height="1" fill="#000" />
<rect x="491.59" y="420.2" width="1.2" height="3.8" fill="#fff" />
<rect x="490.19" y="426" width="4" height="5.4" fill="#fff" />
<rect x="491.59" y="424" width="1.2" height="2" fill="#fff" />
<rect x="491.69" y="432.5" width="1" height="1" fill="#000" />
<rect x="497.56" y="420.2" width="1.2" height="3.8" fill="#fff" />
<rect x="496.16" y="426" width="4" height="5.4" fill="#fff" />
<rect x="497.66" y="432.5" width="1" height="1" fill="#000" />
<rect x="301" y="436" width="226" height="19" fill="#000" />
<rect x="302" y="437" width="224" height="17" fill="#fff" />
<rect x="301" y="442.5" width="7" height="1" fill="#000" />
<rect x="301" y="450" width="7" height="1" fill="#000" />
<rect x="308" y="436" width="3.6" height="17.6" fill="#000" />
<polygon points="311.5,438.5 318.5,438.5 318.5,442.5 321.5,442.5 321.5,451.5 311.5,451.5" fill="#fff" stroke="#000" stroke-width="1"/>
<polyline points="313.5,438.5 313.5,442.5 315.5,442.5 315.5,444.5 318.5,444.5 318.5,442.5" fill="none" stroke="#000" stroke-width="1"/>
<rect x="518.7" y="442.5" width="8.3" height="1" fill="#000" />
<rect x="518.7" y="450" width="8.3" height="1" fill="#000" />
<rect x="515.1" y="436" width="3.6" height="17.6" fill="#000" />
<polygon points="515.2,438.5 508.2,438.5 508.2,442.5 505.2,442.5 505.2,451.5 515.2,451.5" fill="#fff" stroke="#000" stroke-width="1"/>
<polyline points="513.2,438.5 513.2,442.5 511.2,442.5 511.2,444.5 508.2,444.5 508.2,442.5" fill="none" stroke="#000" stroke-width="1"/>
<rect x="326" y="439.2" width="175" height="13.3" fill="#000" />
<rect x="329.9" y="440.2" width="2.2" height="3.8" fill="#fff" />
<rect x="329" y="446" width="4" height="5.4" fill="#fff" />
<rect x="330.5" y="452.5" width="1" height="1" fill="#000" />
<rect x="335.87" y="440.2" width="2.2" height="3.8" fill="#fff" />
<rect x="334.97" y="446" width="4" height="5.4" fill="#fff" />
<rect x="336.47" y="452.5" width="1" height="1" fill="#000" />
<rect x="342.34" y="440.2" width="1.2" height="3.8" fill="#fff" />
<rect x="340.94" y="446" width="4" height="5.4" fill="#fff" />
<rect x="342.44" y="452.5" width="1" height="1" fill="#000" />
<rect x="348.31" y="440.2" width="1.2" height="3.8" fill="#fff" />
<rect x="346.91" y="446" width="4" height="5.4" fill="#fff" />
<rect x="348.41" y="452.5" width="1" height="1" fill="#000" />
<rect x="354.28" y="440.2" width="1.2" height="3.8" fill="#fff" />
<rect x="352.88" y="446" width="4" height="5.4" fill="#fff" />
<rect x="354.38" y="452.5" width="1" height="1" fill="#000" />
<rect x="359.75" y="440.2" width="2.2" height="3.8" fill="#fff" />
<rect x="358.85" y="446" width="4" height="5.4" fill="#fff" />
<rect x="360.25" y="444" width="1.2" height="2" fill="#fff" />
<rect x="360.35" y="452.5" width="1" height="1" fill="#000" />
<rect x="365.72" y="440.2" width="2.2" height="3.8" fill="#fff" />
<rect x="364.82" y="446" width="4" height="5.4" fill="#fff" />
<rect x="366.22" y="444" width="1.2" height="2" fill="#fff" />
<rect x="366.32" y="452.5" width="1" height="1" fill="#000" />
<rect x="372.19" y="440.2" width="1.2" height="3.8" fill="#fff" />
<rect x="370.79" y="446" width="4" height="5.4" fill="#fff" />
<rect x="372.29" y="452.5" width="1" height="1" fill="#000" />
<rect x="378.16" y="440.2" width="1.2" height="3.8" fill="#fff" />
<rect x="376.76" y="446" width="4" height="5.4" fill="#fff" />
<rect x="378.26" y="452.5" width="1" height="1" fill="#000" />
<rect x="384.13" y="440.2" width="1.2" height="3.8" fill="#fff" />
<rect x="382.73" y="446" width="4" height="5.4" fill="#fff" />
<rect x="384.23" y="452.5" width="1" height="1" fill="#000" />
<rect x="389.6" y="440.2" width="2.2" height="3.8" fill="#fff" />
<rect x="388.7" y="446" width="4" height="5.4" fill="#fff" />
<rect x="390.2" y="452.5" width="1" height="1" fill="#000" />
<rect x="395.57" y="440.2" width="2.2" height="3.8" fill="#fff" />
<rect x="394.67" y="446" width="4" height="5.4" fill="#fff" />
<rect x="396.17" y="452.5" width="1" height="1" fill="#000" />
<rect x="402.04" y="440.2" width="1.2" height="3.8" fill="#fff" />
<rect x="400.64" y="446" width="4" height="5.4" fill="#fff" />
<rect x="402.04" y="444" width="1.2" height="2" fill="#fff" />
<rect x="402.14" y="452.5" width="1" height="1" fill="#000" />
<rect x="408.01" y="440.2" width="1.2" height="3.8" fill="#fff" />
<rect x="406.61" y="446" width="4" height="5.4" fill="#fff" />
<rect x="408.01" y="444" width="1.2" height="2" fill="#fff" />
<rect x="408.11" y="452.5" width="1" height="1" fill="#000" />
<rect x="413.98" y="440.2" width="1.2" height="3.8" fill="#fff" />
<rect x="412.58" y="446" width="4" height="5.4" fill="#fff" />
<rect x="414.08" y="452.5" width="1" height="1" fill="#000" />
<rect x="419.45" y="440.2" width="2.2" height="3.8" fill="#fff" />
<rect x="418.55" y="446" width="4" height="5.4" fill="#fff" />
<rect x="420.05" y="452.5" width="1" height="1" fill="#000" />
<rect x="425.42" y="440.2" width="2.2" height="3.8" fill="#fff" />
<rect x="424.52" y="446" width="4" height="5.4" fill="#fff" />
<rect x="426.02" y="452.5" width="1" height="1" fill="#000" />
<rect x="431.89" y="440.2" width="1.2" height="3.8" fill="#fff" />
<rect x="430.49" y="446" width="4" height="5.4" fill="#fff" />
<rect x="431.99" y="452.5" width="1" height="1" fill="#000" />
<rect x="437.86" y="440.2" width="1.2" height="3.8" fill="#fff" />
<rect x="436.46" y="446" width="4" height="5.4" fill="#fff" />
<rect x="437.96" y="452.5" width="1" height="1" fill="#000" />
<rect x="443.83" y="440.2" width="1.2" height="3.8" fill="#fff" />
<rect x="442.43" y="446" width="4" height="5.4" fill="#fff" />
<rect x="443.83" y="444" width="1.2" height="2" fill="#fff" />
<rect x="443.93" y="452.5" width="1" height="1" fill="#000" />
<rect x="449.3" y="440.2" width="2.2" height="3.8" fill="#fff" />
<rect x="448.4" y="446" width="4" height="5.4" fill="#fff" />
<rect x="449.8" y="444" width="1.2" height="2" fill="#fff" />
<rect x="449.9" y="452.5" width="1" height="1" fill="#000" />
<rect x="455.27" y="440.2" width="2.2" height="3.8" fill="#fff" />
<rect x="454.37" y="446" width="4" height="5.4" fill="#fff" />
<rect x="455.87" y="452.5" width="1" height="1" fill="#000" />
<rect x="461.74" y="440.2" width="1.2" height="3.8" fill="#fff" />
<rect x="460.34" y="446" width="4" height="5.4" fill="#fff" />
<rect x="461.84" y="452.5" width="1" height="1" fill="#000" />
<rect x="467.71" y="440.2" width="1.2" height="3.8" fill="#fff" />
<rect x="466.31" y="446" width="4" height="5.4" fill="#fff" />
<rect x="467.81" y="452.5" width="1" height="1" fill="#000" />
<rect x="473.68" y="440.2" width="1.2" height="3.8" fill="#fff" />
<rect x="472.28" y="446" width="4" height="5.4" fill="#fff" />
<rect x="473.78" y="452.5" width="1" height="1" fill="#000" />
<rect x="479.15" y="440.2" width="2.2" height="3.8" fill="#fff" />
<rect x="478.25" y="446" width="4" height="5.4" fill="#fff" />
<rect x="479.75" y="452.5" width="1" height="1" fill="#000" />
<rect x="485.12" y="440.2" width="2.2" height="3.8" fill="#fff" />
<rect x="484.22" y="446" width="4" height="5.4" fill="#fff" />
<rect x="485.62" y="444" width="1.2" height="2" fill="#fff" />
<rect x="485.72" y="452.5" width="1" height="1" fill="#000" />
<rect x="491.59" y="440.2" width="1.2" height="3.8" fill="#fff" />
<rect x="490.19" y="446" width="4" height="5.4" fill="#fff" />
<rect x="491.59" y="444" width="1.2" height="2" fill="#fff" />
<rect x="491.69" y="452.5" width="1" height="1" fill="#000" />
<rect x="497.56" y="440.2" width="1.2" height="3.8" fill="#fff" />
<rect x="496.16" y="446" width="4" height="5.4" fill="#fff" />
<rect x="497.66" y="452.5" width="1" height="1" fill="#000" />
<rect x="301" y="456" width="226" height="19.5" fill="#000" />
<rect x="302" y="457" width="224" height="17.5" fill="#fff" />
<rect x="301" y="462.5" width="7" height="1" fill="#000" />
<rect x="301" y="470" width="7" height="1" fill="#000" />
<rect x="308" y="456" width="3.6" height="17.6" fill="#000" />
<polygon points="311.5,458.5 318.5,458.5 318.5,462.5 321.5,462.5 321.5,471.5 311.5,471.5" fill="#fff" stroke="#000" stroke-width="1"/>
<polyline points="313.5,458.5 313.5,462.5 315.5,462.5 315.5,464.5 318.5,464.5 318.5,462.5" fill="none" stroke="#000" stroke-width="1"/>
<rect x="518.7" y="462.5" width="8.3" height="1" fill="#000" />
<rect x="518.7" y="470" width="8.3" height="1" fill="#000" />
<rect x="515.1" y="456" width="3.6" height="17.6" fill="#000" />
<polygon points="515.2,458.5 508.2,458.5 508.2,462.5 505.2,462.5 505.2,471.5 515.2,471.5" fill="#fff" stroke="#000" stroke-width="1"/>
<polyline points="513.2,458.5 513.2,462.5 511.2,462.5 511.2,464.5 508.2,464.5 508.2,462.5" fill="none" stroke="#000" stroke-width="1"/>
<rect x="326" y="459.2" width="175" height="13.3" fill="#000" />
<rect x="329.9" y="460.2" width="2.2" height="3.8" fill="#fff" />
<rect x="329" y="466" width="4" height="5.4" fill="#fff" />
<rect x="330.5" y="472.5" width="1" height="1" fill="#000" />
<rect x="335.87" y="460.2" width="2.2" height="3.8" fill="#fff" />
<rect x="334.97" y="466" width="4" height="5.4" fill="#fff" />
<rect x="336.47" y="472.5" width="1" height="1" fill="#000" />
<rect x="342.34" y="460.2" width="1.2" height="3.8" fill="#fff" />
<rect x="340.94" y="466" width="4" height="5.4" fill="#fff" />
<rect x="342.44" y="472.5" width="1" height="1" fill="#000" />
<rect x="348.31" y="460.2" width="1.2" height="3.8" fill="#fff" />
<rect x="346.91" y="466" width="4" height="5.4" fill="#fff" />
<rect x="348.41" y="472.5" width="1" height="1" fill="#000" />
<rect x="354.28" y="460.2" width="1.2" height="3.8" fill="#fff" />
<rect x="352.88" y="466" width="4" height="5.4" fill="#fff" />
<rect x="354.38" y="472.5" width="1" height="1" fill="#000" />
<rect x="359.75" y="460.2" width="2.2" height="3.8" fill="#fff" />
<rect x="358.85" y="466" width="4" height="5.4" fill="#fff" />
<rect x="360.25" y="464" width="1.2" height="2" fill="#fff" />
<rect x="360.35" y="472.5" width="1" height="1" fill="#000" />
<rect x="365.72" y="460.2" width="2.2" height="3.8" fill="#fff" />
<rect x="364.82" y="466" width="4" height="5.4" fill="#fff" />
<rect x="366.22" y="464" width="1.2" height="2" fill="#fff" />
<rect x="366.32" y="472.5" width="1" height="1" fill="#000" />
<rect x="372.19" y="460.2" width="1.2" height="3.8" fill="#fff" />
<rect x="370.79" y="466" width="4" height="5.4" fill="#fff" />
<rect x="372.29" y="472.5" width="1" height="1" fill="#000" />
<rect x="378.16" y="460.2" width="1.2" height="3.8" fill="#fff" />
<rect x="376.76" y="466" width="4" height="5.4" fill="#fff" />
<rect x="378.26" y="472.5" width="1" height="1" fill="#000" />
<rect x="384.13" y="460.2" width="1.2" height="3.8" fill="#fff" />
<rect x="382.73" y="466" width="4" height="5.4" fill="#fff" />
<rect x="384.23" y="472.5" width="1" height="1" fill="#000" />
<rect x="389.6" y="460.2" width="2.2" height="3.8" fill="#fff" />
<rect x="388.7" y="466" width="4" height="5.4" fill="#fff" />
<rect x="390.2" y="472.5" width="1" height="1" fill="#000" />
<rect x="395.57" y="460.2" width="2.2" height="3.8" fill="#fff" />
<rect x="394.67" y="466" width="4" height="5.4" fill="#fff" />
<rect x="396.17" y="472.5" width="1" height="1" fill="#000" />
<rect x="402.04" y="460.2" width="1.2" height="3.8" fill="#fff" />
<rect x="400.64" y="466" width="4" height="5.4" fill="#fff" />
<rect x="402.04" y="464" width="1.2" height="2" fill="#fff" />
<rect x="402.14" y="472.5" width="1" height="1" fill="#000" />
<rect x="408.01" y="460.2" width="1.2" height="3.8" fill="#fff" />
<rect x="406.61" y="466" width="4" height="5.4" fill="#fff" />
<rect x="408.01" y="464" width="1.2" height="2" fill="#fff" />
<rect x="408.11" y="472.5" width="1" height="1" fill="#000" />
<rect x="413.98" y="460.2" width="1.2" height="3.8" fill="#fff" />
<rect x="412.58" y="466" width="4" height="5.4" fill="#fff" />
<rect x="414.08" y="472.5" width="1" height="1" fill="#000" />
<rect x="419.45" y="460.2" width="2.2" height="3.8" fill="#fff" />
<rect x="418.55" y="466" width="4" height="5.4" fill="#fff" />
<rect x="420.05" y="472.5" width="1" height="1" fill="#000" />
<rect x="425.42" y="460.2" width="2.2" height="3.8" fill="#fff" />
<rect x="424.52" y="466" width="4" height="5.4" fill="#fff" />
<rect x="426.02" y="472.5" width="1" height="1" fill="#000" />
<rect x="431.89" y="460.2" width="1.2" height="3.8" fill="#fff" />
<rect x="430.49" y="466" width="4" height="5.4" fill="#fff" />
<rect x="431.99" y="472.5" width="1" height="1" fill="#000" />
<rect x="437.86" y="460.2" width="1.2" height="3.8" fill="#fff" />
<rect x="436.46" y="466" width="4" height="5.4" fill="#fff" />
<rect x="437.96" y="472.5" width="1" height="1" fill="#000" />
<rect x="443.83" y="460.2" width="1.2" height="3.8" fill="#fff" />
<rect x="442.43" y="466" width="4" height="5.4" fill="#fff" />
<rect x="443.83" y="464" width="1.2" height="2" fill="#fff" />
<rect x="443.93" y="472.5" width="1" height="1" fill="#000" />
<rect x="449.3" y="460.2" width="2.2" height="3.8" fill="#fff" />
<rect x="448.4" y="466" width="4" height="5.4" fill="#fff" />
<rect x="449.8" y="464" width="1.2" height="2" fill="#fff" />
<rect x="449.9" y="472.5" width="1" height="1" fill="#000" />
<rect x="455.27" y="460.2" width="2.2" height="3.8" fill="#fff" />
<rect x="454.37" y="466" width="4" height="5.4" fill="#fff" />
<rect x="455.87" y="472.5" width="1" height="1" fill="#000" />
<rect x="461.74" y="460.2" width="1.2" height="3.8" fill="#fff" />
<rect x="460.34" y="466" width="4" height="5.4" fill="#fff" />
<rect x="461.84" y="472.5" width="1" height="1" fill="#000" />
<rect x="467.71" y="460.2" width="1.2" height="3.8" fill="#fff" />
<rect x="466.31" y="466" width="4" height="5.4" fill="#fff" />
<rect x="467.81" y="472.5" width="1" height="1" fill="#000" />
<rect x="473.68" y="460.2" width="1.2" height="3.8" fill="#fff" />
<rect x="472.28" y="466" width="4" height="5.4" fill="#fff" />
<rect x="473.78" y="472.5" width="1" height="1" fill="#000" />
<rect x="479.15" y="460.2" width="2.2" height="3.8" fill="#fff" />
<rect x="478.25" y="466" width="4" height="5.4" fill="#fff" />
<rect x="479.75" y="472.5" width="1" height="1" fill="#000" />
<rect x="485.12" y="460.2" width="2.2" height="3.8" fill="#fff" />
<rect x="484.22" y="466" width="4" height="5.4" fill="#fff" />
<rect x="485.62" y="464" width="1.2" height="2" fill="#fff" />
<rect x="485.72" y="472.5" width="1" height="1" fill="#000" />
<rect x="491.59" y="460.2" width="1.2" height="3.8" fill="#fff" />
<rect x="490.19" y="466" width="4" height="5.4" fill="#fff" />
<rect x="491.59" y="464" width="1.2" height="2" fill="#fff" />
<rect x="491.69" y="472.5" width="1" height="1" fill="#000" />
<rect x="497.56" y="460.2" width="1.2" height="3.8" fill="#fff" />
<rect x="496.16" y="466" width="4" height="5.4" fill="#fff" />
<rect x="497.66" y="472.5" width="1" height="1" fill="#000" />
<rect x="301" y="476.5" width="226" height="18.5" fill="#000" />
<rect x="302" y="477.5" width="224" height="16.5" fill="#fff" />
<rect x="301" y="483" width="7" height="1" fill="#000" />
<rect x="301" y="490.5" width="7" height="1" fill="#000" />
<rect x="308" y="476.5" width="3.6" height="17.6" fill="#000" />
<polygon points="311.5,479 318.5,479 318.5,483 321.5,483 321.5,492 311.5,492" fill="#fff" stroke="#000" stroke-width="1"/>
<polyline points="313.5,479 313.5,483 315.5,483 315.5,485 318.5,485 318.5,483" fill="none" stroke="#000" stroke-width="1"/>
<rect x="518.7" y="483" width="8.3" height="1" fill="#000" />
<rect x="518.7" y="490.5" width="8.3" height="1" fill="#000" />
<rect x="515.1" y="476.5" width="3.6" height="17.6" fill="#000" />
<polygon points="515.2,479 508.2,479 508.2,483 505.2,483 505.2,492 515.2,492" fill="#fff" stroke="#000" stroke-width="1"/>
<polyline points="513.2,479 513.2,483 511.2,483 511.2,485 508.2,485 508.2,483" fill="none" stroke="#000" stroke-width="1"/>
<rect x="326" y="479.7" width="175" height="13.3" fill="#000" />
<rect x="329.9" y="480.7" width="2.2" height="3.8" fill="#fff" />
<rect x="329" y="486.5" width="4" height="5.4" fill="#fff" />
<rect x="330.5" y="493" width="1" height="1" fill="#000" />
<rect x="335.87" y="480.7" width="2.2" height="3.8" fill="#fff" />
<rect x="334.97" y="486.5" width="4" height="5.4" fill="#fff" />
<rect x="336.47" y="493" width="1" height="1" fill="#000" />
<rect x="342.34" y="480.7" width="1.2" height="3.8" fill="#fff" />
<rect x="340.94" y="486.5" width="4" height="5.4" fill="#fff" />
<rect x="342.44" y="493" width="1" height="1" fill="#000" />
<rect x="348.31" y="480.7" width="1.2" height="3.8" fill="#fff" />
<rect x="346.91" y="486.5" width="4" height="5.4" fill="#fff" />
<rect x="348.41" y="493" width="1" height="1" fill="#000" />
<rect x="354.28" y="480.7" width="1.2" height="3.8" fill="#fff" />
<rect x="352.88" y="486.5" width="4" height="5.4" fill="#fff" />
<rect x="354.38" y="493" width="1" height="1" fill="#000" />
<rect x="359.75" y="480.7" width="2.2" height="3.8" fill="#fff" />
<rect x="358.85" y="486.5" width="4" height="5.4" fill="#fff" />
<rect x="360.25" y="484.5" width="1.2" height="2" fill="#fff" />
<rect x="360.35" y="493" width="1" height="1" fill="#000" />
<rect x="365.72" y="480.7" width="2.2" height="3.8" fill="#fff" />
<rect x="364.82" y="486.5" width="4" height="5.4" fill="#fff" />
<rect x="366.22" y="484.5" width="1.2" height="2" fill="#fff" />
<rect x="366.32" y="493" width="1" height="1" fill="#000" />
<rect x="372.19" y="480.7" width="1.2" height="3.8" fill="#fff" />
<rect x="370.79" y="486.5" width="4" height="5.4" fill="#fff" />
<rect x="372.29" y="493" width="1" height="1" fill="#000" />
<rect x="378.16" y="480.7" width="1.2" height="3.8" fill="#fff" />
<rect x="376.76" y="486.5" width="4" height="5.4" fill="#fff" />
<rect x="378.26" y="493" width="1" height="1" fill="#000" />
<rect x="384.13" y="480.7" width="1.2" height="3.8" fill="#fff" />
<rect x="382.73" y="486.5" width="4" height="5.4" fill="#fff" />
<rect x="384.23" y="493" width="1" height="1" fill="#000" />
<rect x="389.6" y="480.7" width="2.2" height="3.8" fill="#fff" />
<rect x="388.7" y="486.5" width="4" height="5.4" fill="#fff" />
<rect x="390.2" y="493" width="1" height="1" fill="#000" />
<rect x="395.57" y="480.7" width="2.2" height="3.8" fill="#fff" />
<rect x="394.67" y="486.5" width="4" height="5.4" fill="#fff" />
<rect x="396.17" y="493" width="1" height="1" fill="#000" />
<rect x="402.04" y="480.7" width="1.2" height="3.8" fill="#fff" />
<rect x="400.64" y="486.5" width="4" height="5.4" fill="#fff" />
<rect x="402.04" y="484.5" width="1.2" height="2" fill="#fff" />
<rect x="402.14" y="493" width="1" height="1" fill="#000" />
<rect x="408.01" y="480.7" width="1.2" height="3.8" fill="#fff" />
<rect x="406.61" y="486.5" width="4" height="5.4" fill="#fff" />
<rect x="408.01" y="484.5" width="1.2" height="2" fill="#fff" />
<rect x="408.11" y="493" width="1" height="1" fill="#000" />
<rect x="413.98" y="480.7" width="1.2" height="3.8" fill="#fff" />
<rect x="412.58" y="486.5" width="4" height="5.4" fill="#fff" />
<rect x="414.08" y="493" width="1" height="1" fill="#000" />
<rect x="419.45" y="480.7" width="2.2" height="3.8" fill="#fff" />
<rect x="418.55" y="486.5" width="4" height="5.4" fill="#fff" />
<rect x="420.05" y="493" width="1" height="1" fill="#000" />
<rect x="425.42" y="480.7" width="2.2" height="3.8" fill="#fff" />
<rect x="424.52" y="486.5" width="4" height="5.4" fill="#fff" />
<rect x="426.02" y="493" width="1" height="1" fill="#000" />
<rect x="431.89" y="480.7" width="1.2" height="3.8" fill="#fff" />
<rect x="430.49" y="486.5" width="4" height="5.4" fill="#fff" />
<rect x="431.99" y="493" width="1" height="1" fill="#000" />
<rect x="437.86" y="480.7" width="1.2" height="3.8" fill="#fff" />
<rect x="436.46" y="486.5" width="4" height="5.4" fill="#fff" />
<rect x="437.96" y="493" width="1" height="1" fill="#000" />
<rect x="443.83" y="480.7" width="1.2" height="3.8" fill="#fff" />
<rect x="442.43" y="486.5" width="4" height="5.4" fill="#fff" />
<rect x="443.83" y="484.5" width="1.2" height="2" fill="#fff" />
<rect x="443.93" y="493" width="1" height="1" fill="#000" />
<rect x="449.3" y="480.7" width="2.2" height="3.8" fill="#fff" />
<rect x="448.4" y="486.5" width="4" height="5.4" fill="#fff" />
<rect x="449.8" y="484.5" width="1.2" height="2" fill="#fff" />
<rect x="449.9" y="493" width="1" height="1" fill="#000" />
<rect x="455.27" y="480.7" width="2.2" height="3.8" fill="#fff" />
<rect x="454.37" y="486.5" width="4" height="5.4" fill="#fff" />
<rect x="455.87" y="493" width="1" height="1" fill="#000" />
<rect x="461.74" y="480.7" width="1.2" height="3.8" fill="#fff" />
<rect x="460.34" y="486.5" width="4" height="5.4" fill="#fff" />
<rect x="461.84" y="493" width="1" height="1" fill="#000" />
<rect x="467.71" y="480.7" width="1.2" height="3.8" fill="#fff" />
<rect x="466.31" y="486.5" width="4" height="5.4" fill="#fff" />
<rect x="467.81" y="493" width="1" height="1" fill="#000" />
<rect x="473.68" y="480.7" width="1.2" height="3.8" fill="#fff" />
<rect x="472.28" y="486.5" width="4" height="5.4" fill="#fff" />
<rect x="473.78" y="493" width="1" height="1" fill="#000" />
<rect x="479.15" y="480.7" width="2.2" height="3.8" fill="#fff" />
<rect x="478.25" y="486.5" width="4" height="5.4" fill="#fff" />
<rect x="479.75" y="493" width="1" height="1" fill="#000" />
<rect x="485.12" y="480.7" width="2.2" height="3.8" fill="#fff" />
<rect x="484.22" y="486.5" width="4" height="5.4" fill="#fff" />
<rect x="485.62" y="484.5" width="1.2" height="2" fill="#fff" />
<rect x="485.72" y="493" width="1" height="1" fill="#000" />
<rect x="491.59" y="480.7" width="1.2" height="3.8" fill="#fff" />
<rect x="490.19" y="486.5" width="4" height="5.4" fill="#fff" />
<rect x="491.59" y="484.5" width="1.2" height="2" fill="#fff" />
<rect x="491.69" y="493" width="1" height="1" fill="#000" />
<rect x="497.56" y="480.7" width="1.2" height="3.8" fill="#fff" />
<rect x="496.16" y="486.5" width="4" height="5.4" fill="#fff" />
<rect x="497.66" y="493" width="1" height="1" fill="#000" />
<rect x="301" y="496" width="226" height="19.8" fill="#000" />
<rect x="302" y="497" width="224" height="17.8" fill="#fff" />
<rect x="301" y="502.5" width="7" height="1" fill="#000" />
<rect x="301" y="510" width="7" height="1" fill="#000" />
<rect x="308" y="496" width="3.6" height="17.6" fill="#000" />
<polygon points="311.5,498.5 318.5,498.5 318.5,502.5 321.5,502.5 321.5,511.5 311.5,511.5" fill="#fff" stroke="#000" stroke-width="1"/>
<polyline points="313.5,498.5 313.5,502.5 315.5,502.5 315.5,504.5 318.5,504.5 318.5,502.5" fill="none" stroke="#000" stroke-width="1"/>
<rect x="518.7" y="502.5" width="8.3" height="1" fill="#000" />
<rect x="518.7" y="510" width="8.3" height="1" fill="#000" />
<rect x="515.1" y="496" width="3.6" height="17.6" fill="#000" />
<polygon points="515.2,498.5 508.2,498.5 508.2,502.5 505.2,502.5 505.2,511.5 515.2,511.5" fill="#fff" stroke="#000" stroke-width="1"/>
<polyline points="513.2,498.5 513.2,502.5 511.2,502.5 511.2,504.5 508.2,504.5 508.2,502.5" fill="none" stroke="#000" stroke-width="1"/>
<rect x="326" y="499.2" width="175" height="13.3" fill="#000" />
<rect x="329.9" y="500.2" width="2.2" height="3.8" fill="#fff" />
<rect x="329" y="506" width="4" height="5.4" fill="#fff" />
<rect x="330.5" y="512.5" width="1" height="1" fill="#000" />
<rect x="335.87" y="500.2" width="2.2" height="3.8" fill="#fff" />
<rect x="334.97" y="506" width="4" height="5.4" fill="#fff" />
<rect x="336.47" y="512.5" width="1" height="1" fill="#000" />
<rect x="342.34" y="500.2" width="1.2" height="3.8" fill="#fff" />
<rect x="340.94" y="506" width="4" height="5.4" fill="#fff" />
<rect x="342.44" y="512.5" width="1" height="1" fill="#000" />
<rect x="348.31" y="500.2" width="1.2" height="3.8" fill="#fff" />
<rect x="346.91" y="506" width="4" height="5.4" fill="#fff" />
<rect x="348.41" y="512.5" width="1" height="1" fill="#000" />
<rect x="354.28" y="500.2" width="1.2" height="3.8" fill="#fff" />
<rect x="352.88" y="506" width="4" height="5.4" fill="#fff" />
<rect x="354.38" y="512.5" width="1" height="1" fill="#000" />
<rect x="359.75" y="500.2" width="2.2" height="3.8" fill="#fff" />
<rect x="358.85" y="506" width="4" height="5.4" fill="#fff" />
<rect x="360.25" y="504" width="1.2" height="2" fill="#fff" />
<rect x="360.35" y="512.5" width="1" height="1" fill="#000" />
<rect x="365.72" y="500.2" width="2.2" height="3.8" fill="#fff" />
<rect x="364.82" y="506" width="4" height="5.4" fill="#fff" />
<rect x="366.22" y="504" width="1.2" height="2" fill="#fff" />
<rect x="366.32" y="512.5" width="1" height="1" fill="#000" />
<rect x="372.19" y="500.2" width="1.2" height="3.8" fill="#fff" />
<rect x="370.79" y="506" width="4" height="5.4" fill="#fff" />
<rect x="372.29" y="512.5" width="1" height="1" fill="#000" />
<rect x="378.16" y="500.2" width="1.2" height="3.8" fill="#fff" />
<rect x="376.76" y="506" width="4" height="5.4" fill="#fff" />
<rect x="378.26" y="512.5" width="1" height="1" fill="#000" />
<rect x="384.13" y="500.2" width="1.2" height="3.8" fill="#fff" />
<rect x="382.73" y="506" width="4" height="5.4" fill="#fff" />
<rect x="384.23" y="512.5" width="1" height="1" fill="#000" />
<rect x="389.6" y="500.2" width="2.2" height="3.8" fill="#fff" />
<rect x="388.7" y="506" width="4" height="5.4" fill="#fff" />
<rect x="390.2" y="512.5" width="1" height="1" fill="#000" />
<rect x="395.57" y="500.2" width="2.2" height="3.8" fill="#fff" />
<rect x="394.67" y="506" width="4" height="5.4" fill="#fff" />
<rect x="396.17" y="512.5" width="1" height="1" fill="#000" />
<rect x="402.04" y="500.2" width="1.2" height="3.8" fill="#fff" />
<rect x="400.64" y="506" width="4" height="5.4" fill="#fff" />
<rect x="402.04" y="504" width="1.2" height="2" fill="#fff" />
<rect x="402.14" y="512.5" width="1" height="1" fill="#000" />
<rect x="408.01" y="500.2" width="1.2" height="3.8" fill="#fff" />
<rect x="406.61" y="506" width="4" height="5.4" fill="#fff" />
<rect x="408.01" y="504" width="1.2" height="2" fill="#fff" />
<rect x="408.11" y="512.5" width="1" height="1" fill="#000" />
<rect x="413.98" y="500.2" width="1.2" height="3.8" fill="#fff" />
<rect x="412.58" y="506" width="4" height="5.4" fill="#fff" />
<rect x="414.08" y="512.5" width="1" height="1" fill="#000" />
<rect x="419.45" y="500.2" width="2.2" height="3.8" fill="#fff" />
<rect x="418.55" y="506" width="4" height="5.4" fill="#fff" />
<rect x="420.05" y="512.5" width="1" height="1" fill="#000" />
<rect x="425.42" y="500.2" width="2.2" height="3.8" fill="#fff" />
<rect x="424.52" y="506" width="4" height="5.4" fill="#fff" />
<rect x="426.02" y="512.5" width="1" height="1" fill="#000" />
<rect x="431.89" y="500.2" width="1.2" height="3.8" fill="#fff" />
<rect x="430.49" y="506" width="4" height="5.4" fill="#fff" />
<rect x="431.99" y="512.5" width="1" height="1" fill="#000" />
<rect x="437.86" y="500.2" width="1.2" height="3.8" fill="#fff" />
<rect x="436.46" y="506" width="4" height="5.4" fill="#fff" />
<rect x="437.96" y="512.5" width="1" height="1" fill="#000" />
<rect x="443.83" y="500.2" width="1.2" height="3.8" fill="#fff" />
<rect x="442.43" y="506" width="4" height="5.4" fill="#fff" />
<rect x="443.83" y="504" width="1.2" height="2" fill="#fff" />
<rect x="443.93" y="512.5" width="1" height="1" fill="#000" />
<rect x="449.3" y="500.2" width="2.2" height="3.8" fill="#fff" />
<rect x="448.4" y="506" width="4" height="5.4" fill="#fff" />
<rect x="449.8" y="504" width="1.2" height="2" fill="#fff" />
<rect x="449.9" y="512.5" width="1" height="1" fill="#000" />
<rect x="455.27" y="500.2" width="2.2" height="3.8" fill="#fff" />
<rect x="454.37" y="506" width="4" height="5.4" fill="#fff" />
<rect x="455.87" y="512.5" width="1" height="1" fill="#000" />
<rect x="461.74" y="500.2" width="1.2" height="3.8" fill="#fff" />
<rect x="460.34" y="506" width="4" height="5.4" fill="#fff" />
<rect x="461.84" y="512.5" width="1" height="1" fill="#000" />
<rect x="467.71" y="500.2" width="1.2" height="3.8" fill="#fff" />
<rect x="466.31" y="506" width="4" height="5.4" fill="#fff" />
<rect x="467.81" y="512.5" width="1" height="1" fill="#000" />
<rect x="473.68" y="500.2" width="1.2" height="3.8" fill="#fff" />
<rect x="472.28" y="506" width="4" height="5.4" fill="#fff" />
<rect x="473.78" y="512.5" width="1" height="1" fill="#000" />
<rect x="479.15" y="500.2" width="2.2" height="3.8" fill="#fff" />
<rect x="478.25" y="506" width="4" height="5.4" fill="#fff" />
<rect x="479.75" y="512.5" width="1" height="1" fill="#000" />
<rect x="485.12" y="500.2" width="2.2" height="3.8" fill="#fff" />
<rect x="484.22" y="506" width="4" height="5.4" fill="#fff" />
<rect x="485.62" y="504" width="1.2" height="2" fill="#fff" />
<rect x="485.72" y="512.5" width="1" height="1" fill="#000" />
<rect x="491.59" y="500.2" width="1.2" height="3.8" fill="#fff" />
<rect x="490.19" y="506" width="4" height="5.4" fill="#fff" />
<rect x="491.59" y="504" width="1.2" height="2" fill="#fff" />
<rect x="491.69" y="512.5" width="1" height="1" fill="#000" />
<rect x="497.56" y="500.2" width="1.2" height="3.8" fill="#fff" />
<rect x="496.16" y="506" width="4" height="5.4" fill="#fff" />
<rect x="497.66" y="512.5" width="1" height="1" fill="#000" />
<rect x="385.3" y="386.8" width="57.6" height="14.9" rx="3" ry="3" fill="#fff" stroke="#000" stroke-width="1.6" shape-rendering="auto"/>
<rect x="376" y="392" width="8.5" height="1" fill="#fff" />
<rect x="376" y="395" width="8.5" height="1" fill="#fff" />
<rect x="443.7" y="392" width="8.3" height="1" fill="#fff" />
<rect x="443.7" y="395" width="8.3" height="1" fill="#fff" />
<rect x="385.3" y="468.1" width="57.6" height="14.8" rx="3" ry="3" fill="#fff" stroke="#000" stroke-width="1.6" shape-rendering="auto"/>
<rect x="376" y="473.3" width="8.5" height="1" fill="#fff" />
<rect x="376" y="476.3" width="8.5" height="1" fill="#fff" />
<rect x="443.7" y="473.3" width="8.3" height="1" fill="#fff" />
<rect x="443.7" y="476.3" width="8.3" height="1" fill="#fff" />
<rect x="552" y="402" width="25" height="112.5" fill="#000" />
<rect x="553" y="403" width="23" height="110.5" fill="#fff" />
<rect x="555.2" y="408" width="7.8" height="7.2" fill="#000" />
<rect x="556.5" y="409.3" width="5.2" height="4.6" fill="#fff" />
<rect x="555.2" y="417.45" width="7.8" height="7.2" fill="#000" />
<rect x="556.5" y="418.75" width="5.2" height="4.6" fill="#fff" />
<rect x="555.2" y="426.9" width="7.8" height="7.2" fill="#000" />
<rect x="556.5" y="428.2" width="5.2" height="4.6" fill="#fff" />
<rect x="555.2" y="436.35" width="7.8" height="7.2" fill="#000" />
<rect x="556.5" y="437.65" width="5.2" height="4.6" fill="#fff" />
<rect x="555.2" y="445.8" width="7.8" height="7.2" fill="#000" />
<rect x="556.5" y="447.1" width="5.2" height="4.6" fill="#fff" />
<rect x="555.2" y="455.25" width="7.8" height="7.2" fill="#000" />
<rect x="556.5" y="456.55" width="5.2" height="4.6" fill="#fff" />
<rect x="555.2" y="464.7" width="7.8" height="7.2" fill="#000" />
<rect x="556.5" y="466" width="5.2" height="4.6" fill="#fff" />
<rect x="555.2" y="474.15" width="7.8" height="7.2" fill="#000" />
<rect x="556.5" y="475.45" width="5.2" height="4.6" fill="#fff" />
<rect x="555.2" y="483.6" width="7.8" height="7.2" fill="#000" />
<rect x="556.5" y="484.9" width="5.2" height="4.6" fill="#fff" />
<rect x="555.2" y="493.05" width="7.8" height="7.2" fill="#000" />
<rect x="556.5" y="494.35" width="5.2" height="4.6" fill="#fff" />
<rect x="555.2" y="502.5" width="7.8" height="7.2" fill="#000" />
<rect x="556.5" y="503.8" width="5.2" height="4.6" fill="#fff" />
<rect x="563.9" y="404" width="2.1" height="7.3" fill="#000" />
<rect x="570" y="404.6" width="3.6" height="6.0" rx="1.6" fill="#fff" stroke="#000" stroke-width="1.3" shape-rendering="auto"/>
<rect x="563.9" y="413.45" width="2.1" height="7.3" fill="#000" />
<rect x="570" y="414.1" width="3.6" height="6.0" rx="1.6" fill="#fff" stroke="#000" stroke-width="1.3" shape-rendering="auto"/>
<rect x="563.9" y="422.9" width="2.1" height="7.3" fill="#000" />
<rect x="570" y="423.5" width="3.6" height="6.0" rx="1.6" fill="#fff" stroke="#000" stroke-width="1.3" shape-rendering="auto"/>
<rect x="563.9" y="432.35" width="2.1" height="7.3" fill="#000" />
<rect x="570" y="433.0" width="3.6" height="6.0" rx="1.6" fill="#fff" stroke="#000" stroke-width="1.3" shape-rendering="auto"/>
<rect x="563.9" y="441.8" width="2.1" height="7.3" fill="#000" />
<rect x="570" y="442.4" width="3.6" height="6.0" rx="1.6" fill="#fff" stroke="#000" stroke-width="1.3" shape-rendering="auto"/>
<rect x="563.9" y="451.25" width="2.1" height="7.3" fill="#000" />
<rect x="570" y="451.9" width="3.6" height="6.0" rx="1.6" fill="#fff" stroke="#000" stroke-width="1.3" shape-rendering="auto"/>
<rect x="563.9" y="460.7" width="2.1" height="7.3" fill="#000" />
<rect x="570" y="461.3" width="3.6" height="6.0" rx="1.6" fill="#fff" stroke="#000" stroke-width="1.3" shape-rendering="auto"/>
<rect x="563.9" y="470.15" width="2.1" height="7.3" fill="#000" />
<rect x="570" y="470.8" width="3.6" height="6.0" rx="1.6" fill="#fff" stroke="#000" stroke-width="1.3" shape-rendering="auto"/>
<rect x="563.9" y="479.6" width="2.1" height="7.3" fill="#000" />
<rect x="570" y="480.2" width="3.6" height="6.0" rx="1.6" fill="#fff" stroke="#000" stroke-width="1.3" shape-rendering="auto"/>
<rect x="563.9" y="489.05" width="2.1" height="7.3" fill="#000" />
<rect x="570" y="489.7" width="3.6" height="6.0" rx="1.6" fill="#fff" stroke="#000" stroke-width="1.3" shape-rendering="auto"/>
<rect x="563.9" y="498.5" width="2.1" height="7.3" fill="#000" />
<rect x="570" y="499.1" width="3.6" height="6.0" rx="1.6" fill="#fff" stroke="#000" stroke-width="1.3" shape-rendering="auto"/>
<rect x="563.9" y="507.95" width="2.1" height="5.55" fill="#000" />
<rect x="570" y="508.6" width="3.6" height="4.5" rx="1.6" fill="#fff" stroke="#000" stroke-width="1.3" shape-rendering="auto"/>
<rect x="568" y="402" width="1" height="112.5" fill="#000" />
<rect x="555.5" y="403" width="1.5" height="2" fill="#000" />
<rect x="560.5" y="403" width="1.5" height="2" fill="#000" />
<rect x="555.5" y="404" width="6.5" height="1" fill="#000" />
<rect x="555.5" y="511.5" width="1.5" height="2" fill="#000" />
<rect x="560.5" y="511.5" width="1.5" height="2" fill="#000" />
<rect x="555.5" y="511.5" width="6.5" height="1" fill="#000" />
<rect x="588" y="403.2" width="7" height="12.8" fill="#000" />
<rect x="590" y="404.2" width="1" height="10.8" fill="#fff" />
<rect x="590" y="408.8" width="4" height="1" fill="#fff" />
<polygon points="595.8,434.4 595.7,432.9 593.3,420.0 593.1,414.9 590.1,415.1 590.3,420.1 588.9,433.1 589.0,434.6" fill="#000" shape-rendering="auto"/>
<rect x="579.1" y="433.1" width="30.2" height="16" rx="2.5" ry="2.5" fill="#fff" stroke="#000" stroke-width="2.2" shape-rendering="auto"/>
<polygon points="593.7,435.9 593.6,432.9 592.1,428.0 591.0,433.1 591.1,436.0" fill="#fff" shape-rendering="auto"/>
<polygon points="637,428 660,428 660,424 663,424 663,420 668,420 668,470 663,470 663,466 660,466 660,464 637,464" fill="#000"/>
<rect x="631" y="436.5" width="6.5" height="8.5" fill="#000" />
<rect x="632" y="437.5" width="5.5" height="6.5" fill="#fff" />
<rect x="631" y="446.5" width="6.5" height="8.5" fill="#000" />
<rect x="632" y="447.5" width="5.5" height="6.5" fill="#fff" />
<g filter="url(#bw)" shape-rendering="auto">
<text transform="translate(450.00,59.1) scale(0.740,1)" font-size="14.3" letter-spacing="1.78" >MH2022</text>
<text transform="translate(141.10,168.8) scale(0.680,1)" font-size="13.6" letter-spacing="2.83" >SL1</text>
<text transform="translate(141.10,213.7) scale(0.680,1)" font-size="13.6" letter-spacing="3.71" >SL2</text>
<text transform="translate(141.20,93.9) scale(0.680,1)" font-size="14.3" letter-spacing="3.36" >CPU</text>
<text transform="translate(26.00,54.8) scale(0.680,1)" font-size="13.3" letter-spacing="4.48" >J1</text>
<text transform="translate(26.00,82.9) scale(0.680,1)" font-size="13.3" letter-spacing="4.48" >J2</text>
<text transform="translate(26.00,105.4) scale(0.680,1)" font-size="13.3" letter-spacing="4.48" >J3</text>
<text transform="translate(26.00,124.8) scale(0.680,1)" font-size="13.3" letter-spacing="4.48" >J4</text>
<text transform="translate(26.00,145) scale(0.680,1)" font-size="13.3" letter-spacing="4.48" >J5</text>
<text transform="translate(76.73,76.8) scale(0.680,1)" font-size="13.3"><tspan letter-spacing="0.00">W</tspan><tspan x="17.07" letter-spacing="0.00">2</tspan></text>
<text transform="translate(106.88,149.7) scale(0.680,1)" font-size="13.3"><tspan letter-spacing="0.00">W</tspan><tspan x="16.84" letter-spacing="0.00">3</tspan></text>
<text transform="translate(616.03,59.7) scale(0.680,1)" font-size="13.3"><tspan letter-spacing="0.00">W</tspan><tspan x="18.17" letter-spacing="0.00">1</tspan></text>
<text transform="translate(614.00,163.1) scale(0.680,1)" font-size="14.3" letter-spacing="3.53" >KBD</text>
<text transform="translate(629.00,284.5) scale(0.680,1)" font-size="13.3" letter-spacing="4.19" >J6</text>
<text transform="translate(529.80,336.8) scale(0.680,1)" font-size="14" letter-spacing="2.92" >BIOS</text>
<text transform="translate(38.48,230.8) scale(0.680,1)" font-size="13.3"><tspan letter-spacing="0.00">W</tspan><tspan x="16.48" letter-spacing="0.00">5</tspan></text>
<text transform="translate(120.93,230.8) scale(0.680,1)" font-size="13.3"><tspan letter-spacing="0.00">W</tspan><tspan x="17.51" letter-spacing="0.00">4</tspan></text>
<text transform="translate(74.68,311.8) scale(0.680,1)" font-size="13.3"><tspan letter-spacing="0.00">W</tspan><tspan x="16.26" letter-spacing="0.00">9</tspan></text>
<text transform="translate(36.08,321) scale(0.680,1)" font-size="13.3"><tspan letter-spacing="0.00">W</tspan><tspan x="18.56" letter-spacing="1.93">11</tspan></text>
<text transform="translate(100.18,320.8) scale(0.680,1)" font-size="13.3"><tspan letter-spacing="0.00">W</tspan><tspan x="17.43" letter-spacing="0.00">8</tspan></text>
<text transform="translate(11.38,344.8) scale(0.680,1)" font-size="13.3"><tspan letter-spacing="0.00">W</tspan><tspan x="19.44" letter-spacing="0.95">13</tspan></text>
<text transform="translate(122.43,343.8) scale(0.680,1)" font-size="13.3"><tspan letter-spacing="0.00">W</tspan><tspan x="17.21" letter-spacing="0.00">6</tspan></text>
<text transform="translate(29.53,370.4) scale(0.680,1)" font-size="13.3"><tspan letter-spacing="0.00">W</tspan><tspan x="18.78" letter-spacing="2.12">12</tspan></text>
<text transform="translate(105.38,365.9) scale(0.680,1)" font-size="13.3"><tspan letter-spacing="0.00">W</tspan><tspan x="17.07" letter-spacing="0.00">7</tspan></text>
<text transform="translate(66.43,379.6) scale(0.680,1)" font-size="13.3"><tspan letter-spacing="0.00">W</tspan><tspan x="18.92" letter-spacing="2.71">10</tspan></text>
<text transform="translate(59.30,401.6) scale(0.680,1)" font-size="14" letter-spacing="3.19" >TAG</text>
<text transform="translate(71.1,436.6) scale(0.7,1)" font-size="12.8" text-anchor="middle"><tspan x="0" y="0">B</tspan><tspan x="0" y="15.2">A</tspan><tspan x="0" y="30">N</tspan><tspan x="0" y="44.9">K</tspan><tspan x="0" y="60.2">0</tspan></text>
<text transform="translate(160.9,436.6) scale(0.7,1)" font-size="12.8" text-anchor="middle"><tspan x="0" y="0">B</tspan><tspan x="0" y="15.2">A</tspan><tspan x="0" y="30">N</tspan><tspan x="0" y="44.9">K</tspan><tspan x="0" y="60.2">1</tspan></text>
<text transform="translate(94.20,467.3) scale(0.680,1)" font-size="14.3" letter-spacing="3.59" >CACHE</text>
<text transform="translate(390.80,399.6) scale(0.680,1)" font-size="14"><tspan letter-spacing="2.59">BANK</tspan> <tspan x="61.33" letter-spacing="0.00">0</tspan></text>
<text transform="translate(390.80,479.7) scale(0.680,1)" font-size="14"><tspan letter-spacing="2.59">BANK</tspan> <tspan x="61.33" letter-spacing="0.00">1</tspan></text>
<text transform="translate(580.93,444.8) scale(0.680,1)" font-size="13.3"><tspan letter-spacing="0.00">W</tspan><tspan x="17.75" letter-spacing="2.56">14</tspan></text>
</g>
</svg>
</body></html>
